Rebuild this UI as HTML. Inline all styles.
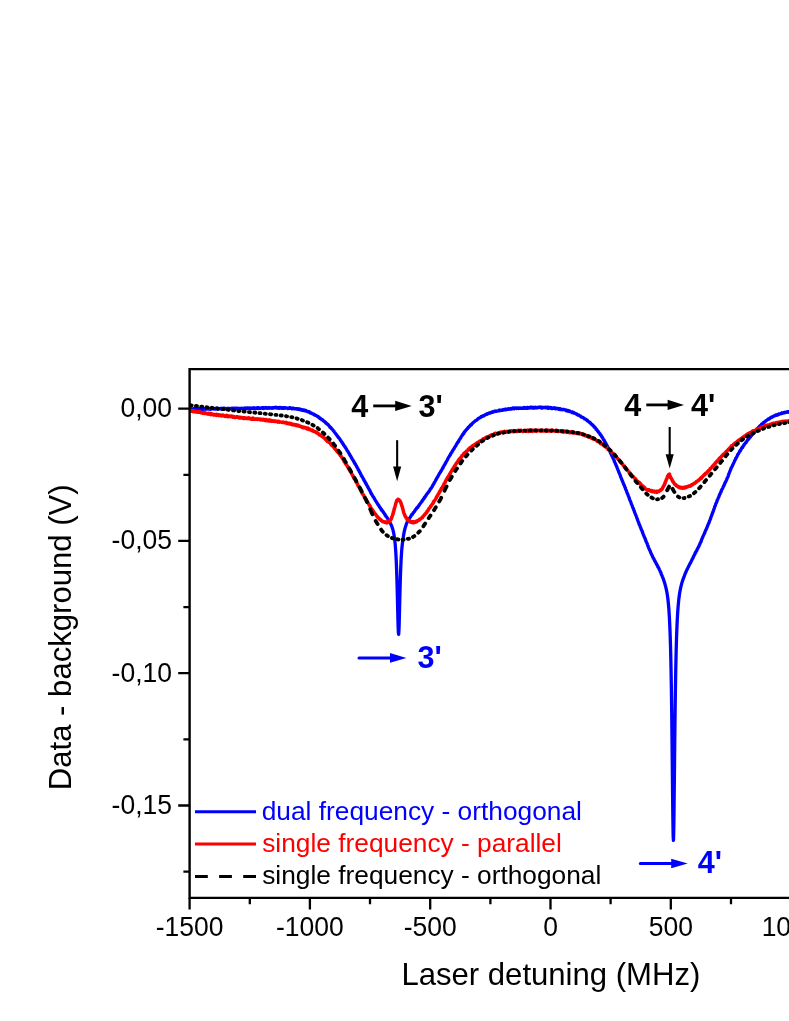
<!DOCTYPE html>
<html>
<head>
<meta charset="utf-8">
<title>Laser detuning</title>
<style>
html,body{margin:0;padding:0;background:#fff;}
body{width:789px;height:1021px;overflow:hidden;position:relative;font-family:"Liberation Sans",sans-serif;}
svg{position:absolute;left:0;top:0;display:block;will-change:transform;}
text{font-family:"Liberation Sans",sans-serif;}
</style>
</head>
<body>
<svg width="789" height="1021" viewBox="0 0 789 1021">
<rect x="0" y="0" width="789" height="1021" fill="#fff"/>
<!-- curves -->
<clipPath id="pc"><rect x="189.6" y="369.1" width="700" height="528.8"/></clipPath>
<g fill="none" stroke-linejoin="round" stroke-linecap="round" clip-path="url(#pc)">
<path d="M189.30 408.99L189.53 409.07L190.12 408.92L190.12 408.76L191.03 408.87L191.40 408.73L191.92 409.00L191.83 409.33L191.55 408.85L191.77 408.82L191.78 409.10L192.45 409.06L192.85 409.00L193.45 408.73L193.66 408.96L193.75 409.15L193.86 408.62L194.27 408.84L194.77 408.47L194.42 408.63L194.88 408.48L194.94 408.89L196.02 408.63L196.24 409.02L196.39 408.99L196.19 408.90L196.84 408.43L197.04 408.80L197.42 408.93L197.55 408.97L197.83 408.54L197.90 408.81L198.52 408.68L198.66 408.72L198.82 409.20L199.17 408.72L199.39 408.92L199.81 409.15L199.73 408.77L200.18 408.89L200.30 408.95L200.32 408.93L201.23 408.60L201.03 408.93L201.78 409.26L202.01 408.51L201.77 409.13L202.26 408.93L202.67 408.73L202.89 409.41L203.09 409.09L203.79 408.58L203.64 408.91L204.10 409.04L204.19 408.84L204.68 409.06L204.71 408.87L205.19 409.05L205.65 409.25L205.61 408.70L205.68 408.93L205.82 408.75L206.44 408.90L206.79 408.56L206.93 408.72L207.10 408.81L207.74 409.09L208.42 409.15L208.12 408.51L208.59 408.65L208.90 409.02L208.58 408.33L209.43 408.73L209.42 408.82L210.06 409.17L209.93 409.02L210.10 408.75L210.54 408.74L210.94 408.77L211.06 409.22L211.49 408.72L211.25 408.75L211.74 408.92L212.30 408.79L212.91 408.77L212.88 408.53L213.07 408.81L213.61 408.70L213.86 409.11L214.33 408.97L214.48 408.80L214.47 408.97L214.87 408.71L215.15 409.07L215.48 408.79L215.65 408.94L215.50 408.46L215.48 408.88L216.13 408.35L216.08 408.26L216.92 408.70L217.20 408.54L217.07 408.81L217.78 409.29L218.02 408.55L218.12 408.60L218.83 408.82L219.18 408.89L218.69 408.71L219.57 408.70L219.71 408.93L220.01 408.88L220.44 408.48L220.31 408.72L220.65 408.75L220.89 408.46L221.21 408.80L221.57 408.51L221.33 408.98L221.73 408.78L222.45 408.75L222.58 408.57L223.00 408.69L222.71 408.20L223.30 408.42L223.46 408.80L223.81 408.19L223.95 408.92L224.64 408.25L224.68 408.89L225.00 408.48L225.30 408.89L225.78 408.72L225.78 408.29L226.49 409.00L226.62 409.05L226.84 408.66L227.11 408.60L227.53 408.62L227.86 408.41L227.94 408.94L228.10 408.52L228.53 408.64L228.63 408.45L229.22 408.49L229.19 408.31L228.99 408.96L229.94 408.60L229.83 408.88L229.80 408.64L230.35 408.45L230.47 408.54L231.51 408.48L231.43 408.62L231.20 408.52L232.04 408.53L232.10 408.25L232.99 408.39L232.53 409.02L232.59 408.42L233.42 408.32L233.51 408.67L233.59 408.95L233.49 408.21L234.41 408.52L235.03 408.41L234.41 408.12L235.50 408.76L235.35 408.56L236.11 408.58L235.91 408.36L236.05 408.67L236.68 408.41L236.84 408.51L236.85 408.26L237.48 408.23L237.47 408.88L237.44 408.40L238.71 408.60L238.41 408.51L238.64 408.40L239.19 408.38L239.00 408.67L239.25 408.43L239.57 408.46L239.87 408.50L240.32 408.79L240.89 408.66L240.78 408.58L241.33 408.33L241.65 408.12L241.32 408.72L241.86 408.72L241.86 408.43L242.67 408.60L242.82 408.65L243.00 408.66L242.96 408.68L243.63 408.32L243.70 408.82L244.38 408.11L244.47 408.64L244.59 408.54L245.34 408.64L245.58 408.89L245.45 408.78L246.00 408.11L245.92 407.96L246.22 408.60L246.63 408.13L246.71 408.38L247.09 408.59L247.46 407.95L247.99 407.85L248.18 408.43L248.03 408.37L248.81 408.29L248.69 408.35L249.10 408.12L249.53 407.95L249.67 408.28L250.41 408.07L250.26 407.90L250.19 408.44L251.13 408.29L250.99 408.40L251.32 408.04L251.09 408.12L251.96 408.03L252.21 408.05L252.50 408.32L252.85 408.07L253.33 408.35L253.19 408.34L253.74 408.76L253.41 407.89L253.71 408.47L254.37 408.21L254.50 408.23L254.36 407.85L255.09 408.10L255.25 408.40L255.39 408.18L256.01 408.22L256.10 408.12L256.10 408.48L256.52 408.17L257.55 407.66L257.01 407.99L257.66 407.66L257.86 407.65L258.16 408.02L257.99 408.49L258.52 408.15L258.94 407.83L259.40 407.89L259.34 408.41L259.30 408.16L260.06 408.13L260.38 408.09L260.49 408.11L260.54 408.30L261.10 408.23L261.33 408.14L261.81 407.81L261.58 408.20L262.23 407.89L262.46 408.33L262.52 407.72L263.16 408.01L263.41 408.03L263.50 407.69L263.80 408.47L263.64 408.40L264.29 407.90L264.71 408.21L264.97 408.10L265.47 407.49L265.20 408.05L265.22 407.97L265.86 408.00L266.22 407.70L266.91 407.89L266.86 407.91L266.78 408.24L267.50 408.02L267.39 407.92L267.52 408.30L268.71 407.77L268.58 407.80L268.98 407.43L269.24 408.28L269.86 408.11L269.67 408.10L270.01 408.03L269.74 407.88L269.95 407.90L270.96 407.77L271.27 407.77L271.33 407.83L271.56 408.19L271.64 407.95L271.63 407.78L272.49 407.64L272.57 407.62L272.83 408.19L273.10 407.90L273.57 407.78L273.73 407.67L274.09 407.47L273.90 407.73L274.63 407.97L275.31 407.64L274.97 407.68L275.37 407.68L275.83 407.76L275.95 407.32L276.16 407.67L275.88 407.51L276.73 407.96L276.59 407.53L276.99 407.88L277.64 408.12L277.52 407.65L278.01 407.58L278.61 407.78L278.60 407.74L278.89 407.49L278.77 407.87L279.14 408.27L279.33 407.69L279.76 407.72L279.92 407.51L280.33 407.86L280.75 407.47L280.85 407.52L281.04 408.13L281.26 407.59L281.81 408.09L282.02 408.21L282.56 407.91L282.86 407.99L282.81 408.35L283.37 407.83L283.14 407.74L284.10 407.55L284.10 407.91L284.05 408.28L284.11 408.17L284.79 407.71L284.53 407.74L285.11 407.85L285.79 408.06L285.92 407.95L286.08 408.07L286.74 408.11L286.54 407.98L287.17 408.06L287.28 408.13L287.39 408.07L287.81 408.22L287.75 408.58L288.77 408.28L288.46 408.16L289.39 407.75L288.93 408.28L289.65 407.72L289.30 407.86L289.47 408.43L290.14 408.41L290.57 408.22L290.39 407.86L291.29 408.21L291.11 408.16L291.63 408.50L291.99 408.85L292.34 408.45L292.07 408.24L293.19 408.17L293.23 408.47L293.30 408.47L293.36 408.26L293.30 408.57L293.68 408.31L294.43 408.88L294.52 408.90L294.64 408.94L295.08 408.61L295.86 408.88L295.52 408.74L295.66 408.71L296.41 408.76L296.51 408.58L296.71 408.59L296.86 409.15L296.94 408.97L297.33 409.11L297.79 409.34L298.15 408.76L298.58 409.03L298.92 409.29L299.15 409.39L299.45 409.27L299.37 409.62L299.25 409.46L299.88 409.19L300.09 409.31L300.45 409.75L300.84 409.73L300.92 409.26L301.25 410.04L301.58 409.89L301.83 410.10L301.96 409.78L302.51 409.86L302.65 409.75L302.78 410.49L303.31 410.10L304.00 410.55L303.76 410.16L304.44 410.41L304.78 410.12L305.11 410.48L304.93 410.85L305.80 410.49L305.62 411.03L305.65 410.91L305.95 410.74L306.42 410.96L306.61 411.07L306.87 411.26L307.45 411.28L307.36 411.34L307.40 411.48L307.95 411.43L308.23 411.50L308.61 411.86L308.50 412.16L309.20 411.83L309.39 412.25L309.93 412.26L309.67 412.33L310.24 412.81L310.45 412.69L310.51 413.20L310.97 412.92L311.61 413.28L311.51 413.26L311.57 413.22L312.16 413.60L312.48 413.62L312.78 413.90L312.76 413.93L313.19 413.90L313.68 414.22L313.48 414.30L313.67 414.56L314.25 414.38L314.68 414.69L314.50 414.55L314.65 415.12L315.05 414.98L315.42 415.02L315.88 415.49L316.31 415.86L316.48 415.59L316.68 415.84L317.13 416.09L317.24 416.21L317.59 416.58L317.59 416.45L318.33 416.66L318.43 417.07L318.46 417.05L318.74 417.45L319.13 417.43L319.24 417.60L319.48 417.57L319.68 418.30L320.24 418.17L320.33 418.48L320.58 418.65L320.79 418.91L321.12 419.12L321.59 419.63L321.87 419.41L322.37 419.57L322.40 419.89L322.96 420.09L323.14 420.64L323.40 420.90L323.30 420.80L323.51 420.82L324.11 421.22L324.51 421.73L324.63 421.49L325.01 422.12L325.14 422.14L325.45 422.71L325.50 422.49L325.94 422.79L326.15 422.88L326.37 423.22L326.65 423.83L327.08 424.02L327.35 424.12L327.48 424.33L328.14 424.47L328.24 424.97L328.50 425.32L329.00 425.61L329.24 425.91L329.39 426.09L329.67 426.44L329.56 426.55L329.92 427.04L330.04 427.44L330.76 427.51L330.65 427.76L331.29 428.19L331.39 428.46L331.48 428.56L331.78 428.88L332.13 429.11L332.48 429.67L332.92 429.94L333.04 430.35L333.41 430.66L333.53 430.96L333.99 431.31L334.22 431.77L334.44 432.11L334.79 432.59L335.09 432.94L335.42 433.17L335.65 433.60L335.64 433.56L335.91 434.04L336.39 434.47L336.40 434.66L336.83 435.31L337.38 435.72L337.26 436.08L337.52 436.19L337.88 436.46L337.91 436.80L338.63 437.29L338.47 437.66L339.17 438.14L339.48 438.40L339.71 438.98L339.87 439.38L340.24 439.76L340.40 440.15L340.89 440.68L340.97 440.86L341.37 441.53L341.71 441.79L341.57 441.94L341.96 442.39L342.32 442.72L342.45 443.21L343.03 443.76L343.24 444.19L343.33 444.62L343.59 444.59L343.72 445.12L344.03 445.65L344.41 446.10L344.62 446.49L345.10 446.77L345.22 447.51L345.70 447.88L345.90 448.16L346.29 448.90L346.44 449.18L346.75 449.69L346.98 450.25L347.46 450.95L347.70 451.10L347.91 451.33L348.13 451.98L348.33 452.47L348.58 452.79L348.94 453.27L349.20 453.67L349.65 454.23L349.70 454.51L349.71 454.85L350.03 455.32L350.54 455.92L350.73 456.24L350.98 456.82L351.42 457.41L351.56 457.90L351.87 458.46L352.15 458.89L352.30 459.33L352.89 459.90L352.98 460.27L353.34 460.72L353.52 461.29L353.77 461.39L353.99 461.95L354.30 462.26L354.43 462.92L354.89 463.42L355.05 463.92L355.53 464.34L355.64 464.68L355.80 465.16L356.30 465.64L356.45 466.08L356.76 466.68L357.01 467.29L357.28 467.56L357.70 468.29L358.01 468.90L358.07 469.46L358.60 470.10L358.85 470.59L359.19 471.06L359.45 471.61L359.48 472.02L359.58 472.07L360.18 472.67L360.32 473.31L360.46 473.97L360.93 474.31L361.16 474.87L361.32 475.45L361.40 475.74L361.64 475.97L362.13 476.67L362.40 476.98L362.68 477.61L363.03 478.15L363.36 478.80L363.40 479.37L363.87 479.66L364.12 480.26L364.38 480.93L364.75 481.37L365.09 481.83L365.37 482.62L365.46 482.93L365.65 483.12L366.20 483.57L366.20 484.27L366.44 484.70L366.93 485.38L367.26 485.74L367.55 486.31L367.49 486.60L367.90 486.88L368.02 487.57L368.29 488.09L368.64 488.54L368.99 489.19L369.37 489.71L369.66 490.39L369.90 490.79L370.29 491.37L370.51 492.08L370.89 492.71L370.96 493.25L371.24 493.60L371.68 493.98L371.56 494.29L371.97 494.66L372.29 495.10L372.55 495.74L372.85 496.29L373.34 496.68L373.29 497.10L373.69 497.29L374.01 497.85L374.10 498.20L374.40 498.75L374.78 499.28L375.19 499.81L375.17 500.19L375.61 500.76L375.88 501.09L376.26 501.62L376.52 502.03L376.87 502.73L377.05 503.08L377.41 503.47L377.53 503.82L377.63 503.99L377.98 504.55L378.28 504.76L378.47 505.28L379.07 505.81L379.19 506.52L379.35 506.86L379.72 506.89L379.72 507.28L380.06 507.72L380.10 507.62L380.43 508.05L380.52 508.37L380.64 508.59L381.00 509.05L381.53 509.35L381.27 509.92L381.61 510.04L381.95 510.34L381.88 510.50L382.04 510.48L382.73 511.21L382.76 511.54L383.23 511.90L383.16 512.07L383.41 512.38L383.55 512.37L383.77 512.89L384.13 513.20L384.35 513.68L384.52 513.94L384.62 514.12L385.05 514.37L385.09 514.88L385.09 515.07L385.43 515.61L385.84 516.15L385.93 516.23L386.06 516.18L386.29 516.73L386.47 516.85L386.75 517.23L387.11 517.75L387.30 517.98L387.72 518.54L387.59 518.49L388.12 519.16L388.11 519.27L388.25 519.56L388.45 520.07L388.59 520.50L388.98 520.82L389.12 520.87L389.60 521.55L389.36 521.91L389.89 522.27L389.98 522.73L390.30 523.15L390.50 523.52L390.60 523.74L390.90 524.33L391.00 524.54L391.20 524.98L391.50 525.68L391.80 526.42L392.00 526.95L392.10 527.22L392.20 527.51L392.40 528.12L392.60 528.74L392.70 529.07L392.80 529.43L393.00 530.15L393.20 530.93L393.30 531.35L393.40 531.79L393.60 532.71L393.80 533.71L393.90 534.25L394.00 534.81L394.20 536.02L394.40 537.36L394.50 538.09L394.60 538.84L394.80 540.50L395.00 542.35L395.10 543.37L395.20 544.44L395.40 546.81L395.60 549.46L395.70 550.95L395.80 552.51L396.00 555.98L396.20 559.95L396.30 562.13L396.40 564.47L396.60 569.65L396.80 575.53L396.90 578.75L397.00 582.16L397.20 589.51L397.40 597.51L397.50 601.67L397.60 605.90L397.80 614.30L398.00 622.10L398.10 625.54L398.20 628.55L398.40 632.85L398.60 634.36L398.70 634.08L398.80 633.00L399.00 628.86L399.20 622.58L399.30 618.89L399.40 614.95L399.60 606.73L399.80 598.49L399.90 594.51L400.00 590.67L400.20 583.48L400.40 577.03L400.50 574.09L400.60 571.33L400.80 566.31L401.00 561.96L401.10 559.98L401.20 558.14L401.40 554.83L401.60 551.95L401.70 550.64L401.80 549.42L402.00 547.21L402.20 545.25L402.30 544.37L402.40 543.52L402.60 541.99L402.80 540.62L402.90 539.96L403.00 539.28L403.20 537.92L403.40 536.55L403.50 535.89L403.60 535.23L403.80 533.98L404.00 532.85L404.10 532.33L404.20 531.85L404.40 530.92L404.60 530.05L404.70 529.64L404.80 529.24L405.00 528.48L405.30 527.40L405.50 526.71L405.60 526.40L405.90 525.47L406.00 525.17L406.20 524.59L406.50 523.77L406.80 523.02L407.00 522.54L407.10 522.30L407.40 521.66L407.42 521.60L407.80 521.10L408.06 520.64L408.34 519.95L408.55 519.76L408.60 519.44L409.07 519.01L409.07 519.10L409.24 518.66L409.64 518.07L409.90 517.69L410.05 517.44L410.14 517.40L410.60 516.77L410.56 516.49L410.69 516.37L410.90 515.97L411.26 515.56L411.38 515.43L411.61 515.17L411.93 514.82L411.77 514.46L412.20 514.42L412.58 514.15L412.82 513.61L412.89 513.28L413.25 513.13L413.32 512.93L413.35 512.48L413.57 512.31L414.00 511.98L414.42 511.62L414.64 511.22L414.63 511.18L414.76 510.71L414.92 510.63L415.09 510.33L415.48 509.82L415.59 509.56L416.01 509.40L416.18 509.05L416.38 508.73L416.55 508.71L416.59 508.24L416.83 507.98L417.23 507.43L417.64 507.42L417.72 507.39L417.85 506.99L418.14 506.59L418.16 506.43L418.68 505.95L418.86 505.55L419.05 505.31L419.49 504.56L419.61 504.43L419.89 503.89L420.13 503.65L420.63 503.10L420.89 502.58L421.19 502.28L421.45 501.92L421.97 501.43L421.95 501.20L422.02 500.95L422.54 500.36L422.86 500.27L423.04 499.82L423.10 499.33L423.53 498.89L423.97 498.57L424.00 498.26L424.38 497.94L424.34 497.57L424.88 497.30L425.03 496.57L425.55 496.44L425.69 495.80L426.12 495.32L426.23 495.17L426.44 494.60L426.77 494.05L427.13 493.75L427.38 493.49L427.94 493.12L428.16 492.66L428.13 492.62L428.28 492.25L428.69 491.68L428.92 491.38L429.47 490.92L429.64 490.44L429.96 490.02L429.95 489.93L429.98 489.64L430.41 489.13L430.68 488.69L431.14 488.39L431.41 487.82L431.62 487.40L431.96 486.93L432.46 486.35L432.50 485.98L432.81 485.17L433.18 484.80L433.43 484.15L433.76 483.82L434.05 483.44L434.27 482.90L434.22 482.45L434.70 482.07L435.00 481.54L435.29 480.99L435.58 480.37L435.87 479.89L436.10 479.74L436.15 479.31L436.49 478.90L436.80 478.07L437.11 477.82L437.38 477.14L437.80 476.82L438.00 476.18L438.32 475.60L438.59 475.21L438.80 474.57L439.12 474.05L439.39 473.47L439.82 473.11L439.93 472.82L439.99 472.70L440.42 472.06L440.75 471.67L440.82 471.05L441.47 470.52L441.60 470.06L441.89 469.59L442.11 469.27L442.21 468.94L442.44 468.42L443.00 467.92L442.99 467.29L443.39 466.95L443.78 466.27L443.89 465.82L444.29 465.15L444.64 464.73L445.10 464.19L445.11 463.57L445.50 463.27L445.87 462.56L446.01 462.34L445.98 462.08L446.44 461.38L446.71 460.86L447.04 460.41L447.41 459.83L447.70 459.30L447.94 458.73L448.03 458.40L448.09 458.21L448.49 457.51L448.82 457.23L449.06 456.60L449.41 456.09L449.62 455.63L450.16 455.17L450.51 454.49L450.56 453.95L450.94 453.52L451.18 452.92L451.63 452.53L451.85 452.30L452.01 451.70L452.08 451.71L452.41 451.00L452.59 450.69L453.07 450.13L453.22 449.67L453.66 449.24L453.91 448.88L454.12 448.55L454.20 448.22L454.61 447.62L454.70 447.29L455.16 446.72L455.38 446.35L455.72 445.77L456.01 445.47L456.40 444.59L456.39 444.29L456.93 443.93L457.04 443.32L457.63 442.80L457.59 442.37L457.89 441.94L457.92 441.94L458.58 441.66L458.56 441.10L459.01 440.38L459.24 439.93L459.41 439.50L459.86 439.17L460.07 438.82L460.18 438.51L460.60 438.19L460.76 437.69L461.10 437.08L461.36 436.51L461.74 435.98L462.20 435.60L462.34 434.99L462.62 434.83L462.83 434.23L463.11 433.93L463.67 433.68L463.67 433.19L463.89 432.65L464.09 432.76L464.35 432.40L464.94 431.78L464.76 431.37L465.34 431.09L465.69 430.53L465.76 430.54L465.92 429.99L466.25 429.86L466.70 429.60L466.68 429.25L466.90 428.95L467.52 428.62L467.90 428.21L467.96 428.05L468.04 427.31L468.79 427.25L468.87 426.83L469.35 426.62L469.49 426.32L469.75 425.86L469.94 425.69L470.30 425.78L470.60 425.42L470.43 424.98L470.87 425.05L471.55 424.75L471.55 423.98L471.71 423.94L472.00 424.08L472.18 423.72L472.49 423.37L472.73 423.03L473.06 422.71L473.33 422.48L473.75 422.17L473.88 422.10L474.26 421.68L474.58 421.42L475.10 421.06L475.26 420.99L475.48 420.62L475.88 420.50L476.06 420.54L476.27 420.36L476.48 420.16L476.98 419.91L477.21 419.65L477.29 419.41L477.53 419.17L478.04 419.13L478.08 418.77L478.18 419.02L478.26 418.61L478.50 418.29L479.16 418.13L479.53 417.91L479.83 417.86L479.78 417.53L480.47 417.66L480.51 417.15L480.97 416.77L481.27 416.81L481.36 416.42L481.70 416.59L481.65 416.67L481.94 416.54L482.08 416.03L482.78 415.97L483.01 416.26L483.46 415.85L483.66 415.64L483.79 415.67L484.06 415.79L484.13 415.57L484.61 415.21L484.86 415.10L484.92 415.00L485.40 414.64L485.71 414.42L485.94 414.48L486.47 414.16L486.92 414.19L486.83 414.09L487.13 414.33L487.12 413.66L487.78 413.68L487.92 413.60L487.71 413.67L488.46 413.68L488.82 413.27L488.86 413.09L489.23 412.83L489.41 412.86L490.05 413.05L489.70 412.92L490.14 412.64L490.89 412.67L490.81 412.66L491.20 412.66L491.37 412.34L491.46 412.32L491.99 411.91L492.38 411.96L492.39 412.45L492.97 411.61L493.46 411.88L493.72 411.91L493.47 411.71L493.79 411.56L493.76 411.70L494.63 411.63L494.83 411.54L495.15 411.08L495.11 411.38L495.35 411.16L495.92 411.16L496.02 411.30L496.01 411.35L496.53 411.34L496.94 410.97L497.15 411.22L497.17 411.22L497.26 411.15L497.94 411.15L498.34 410.75L498.54 410.68L498.80 410.85L499.05 410.31L499.66 410.60L499.79 410.38L500.03 410.38L499.88 410.05L500.26 410.19L500.74 410.32L500.78 410.47L501.02 410.44L501.53 410.14L502.17 410.06L502.04 409.90L502.53 410.14L502.47 409.94L502.73 410.07L502.79 410.28L503.27 409.82L504.02 409.44L504.07 409.53L504.47 409.35L504.76 409.35L504.90 409.87L505.15 409.58L505.53 409.13L505.95 409.58L506.10 409.69L506.21 409.30L506.44 409.19L506.52 409.22L506.94 409.32L507.08 409.36L507.83 409.45L507.44 409.41L507.95 409.39L508.66 409.41L508.42 409.20L508.54 408.66L509.10 408.94L509.70 409.00L509.66 408.80L510.14 409.06L510.32 408.73L510.51 408.56L511.37 409.07L511.22 408.85L511.37 408.71L511.68 408.84L512.09 408.85L512.20 408.67L512.58 408.08L512.73 408.36L512.66 408.38L513.43 408.23L513.53 408.48L513.83 408.69L513.64 408.28L514.06 408.11L514.32 408.84L514.79 408.22L514.74 408.01L515.41 408.35L515.73 408.38L515.72 408.08L516.14 408.44L516.39 408.11L517.13 407.98L516.70 408.24L517.41 408.37L517.39 408.01L517.89 408.24L518.31 408.13L518.24 408.64L518.73 407.95L518.79 408.46L519.78 408.08L519.83 408.05L520.18 408.25L519.67 408.29L519.92 408.37L520.77 408.12L520.75 407.88L521.04 407.88L521.48 408.13L521.39 408.13L522.19 408.33L522.30 408.07L522.72 408.22L522.73 408.32L523.33 407.97L523.32 407.54L524.04 407.61L524.28 407.53L524.33 408.29L524.53 407.67L524.86 408.18L524.50 408.01L525.51 408.28L525.53 408.09L525.92 407.80L525.93 407.77L525.85 407.84L526.36 407.85L526.97 407.66L527.46 407.78L527.24 408.18L527.47 407.33L528.37 407.82L528.08 407.52L529.11 407.79L528.91 407.94L528.98 407.71L529.75 407.91L530.23 407.30L529.64 407.98L530.50 407.54L530.33 407.85L531.08 407.73L530.90 407.16L530.90 407.47L531.73 407.72L532.14 408.05L532.51 407.72L532.64 407.71L532.68 407.28L532.74 408.00L532.97 408.09L533.32 407.63L533.49 407.56L533.93 407.20L533.79 407.83L534.65 408.12L534.89 407.78L535.71 407.92L535.70 407.73L535.68 407.33L536.15 407.93L535.78 407.27L536.24 407.53L536.22 407.65L537.37 407.80L537.45 407.68L537.30 407.67L537.88 407.37L538.25 407.23L538.33 407.58L538.60 407.38L538.58 407.22L538.93 407.23L539.42 407.44L539.94 407.08L539.78 407.21L540.01 407.14L540.90 407.61L540.66 407.67L541.48 408.08L541.56 407.19L542.03 407.40L542.45 407.81L542.28 407.53L542.60 407.50L542.47 408.03L542.82 407.51L543.46 407.31L543.99 407.28L544.25 407.71L544.51 407.70L544.28 407.29L544.55 407.39L545.05 407.79L545.10 407.81L545.38 407.51L545.44 407.84L546.25 407.84L546.03 407.27L546.73 407.65L546.55 407.84L547.47 407.61L547.24 407.27L548.01 407.71L547.61 407.98L547.99 408.19L548.69 407.32L548.50 408.33L549.02 407.57L549.18 408.10L549.11 408.19L549.98 408.14L550.11 407.94L549.93 407.63L550.64 408.09L550.60 407.77L550.85 407.48L551.40 408.48L551.53 408.18L552.49 408.47L551.92 407.82L552.78 408.42L553.14 408.47L552.72 408.48L553.08 408.12L553.94 407.86L553.88 408.13L554.19 407.70L554.67 407.80L554.61 408.26L554.75 408.03L554.83 408.26L555.65 408.31L555.68 408.83L556.07 408.69L556.25 408.40L556.18 408.73L557.20 408.31L557.35 408.46L557.59 408.79L557.43 408.34L557.91 408.60L558.18 408.42L558.51 408.79L558.65 409.18L559.30 408.69L559.55 408.97L559.88 408.77L559.89 408.75L560.39 408.75L560.44 409.40L560.26 409.58L560.86 409.30L561.29 409.09L561.81 409.46L561.83 409.29L561.94 409.56L562.05 409.49L562.65 409.55L562.70 409.68L562.97 409.48L563.24 409.58L563.82 409.36L563.88 409.70L563.93 409.55L564.74 409.90L564.75 409.79L565.28 410.08L565.58 410.22L566.06 409.89L566.22 410.07L565.98 410.07L566.37 410.50L566.43 410.78L567.35 410.69L567.39 410.53L567.89 410.99L567.84 410.47L567.59 411.12L568.51 410.74L568.52 410.57L568.83 411.47L569.11 411.48L569.53 411.07L569.81 411.41L569.69 411.44L570.51 411.61L570.50 411.40L570.81 411.67L571.54 412.00L571.68 412.06L571.73 412.36L571.64 412.21L572.13 412.63L572.50 412.21L572.68 412.51L572.76 412.21L573.15 412.46L573.36 413.07L573.94 412.76L574.16 413.08L574.39 413.05L574.36 413.00L574.84 413.25L575.20 413.35L575.30 413.49L575.67 413.85L576.37 413.97L576.34 413.88L576.76 413.96L576.82 414.32L577.21 414.39L577.19 414.74L577.80 415.06L578.21 414.95L578.46 414.84L578.61 414.97L578.82 415.00L579.01 415.15L579.19 415.29L579.57 415.56L580.01 415.71L579.86 415.97L580.36 415.89L580.33 416.09L580.49 416.08L580.93 416.75L581.12 416.73L581.47 417.12L582.19 417.13L582.27 417.43L582.64 417.32L583.09 417.67L583.41 418.07L583.42 417.73L584.02 418.31L584.06 418.53L584.10 418.38L584.47 418.64L584.47 418.92L584.87 418.80L585.28 419.18L585.70 419.18L585.84 419.42L585.98 419.50L586.35 419.72L586.72 419.98L586.92 420.25L587.30 420.17L587.34 420.93L587.65 421.03L588.05 421.20L588.25 421.26L588.52 421.54L589.15 421.88L589.17 422.11L589.36 422.04L589.87 422.66L590.27 423.01L590.11 422.52L590.58 423.21L590.64 423.38L590.93 423.58L591.20 424.07L591.58 423.98L592.16 424.46L591.84 424.75L592.43 424.70L592.36 424.97L592.77 425.35L593.21 425.58L593.48 426.16L593.74 426.14L593.78 426.71L594.35 426.75L594.47 427.34L595.16 427.57L595.17 427.67L595.52 428.27L595.65 428.48L595.94 428.79L595.94 429.17L596.52 429.18L596.67 429.55L597.07 430.23L597.22 430.43L597.54 430.98L598.06 431.21L597.88 431.19L597.98 431.55L598.55 432.10L598.67 432.47L599.05 432.76L599.51 433.17L599.61 433.57L600.10 433.94L600.22 434.66L600.77 434.87L601.05 435.17L601.15 435.69L601.48 436.28L601.71 436.73L602.02 436.94L602.22 437.04L602.24 437.58L602.80 437.87L602.86 438.39L603.21 439.10L603.41 439.45L604.11 440.04L604.01 440.30L604.23 440.57L604.43 441.02L604.91 441.75L604.90 442.15L605.40 442.59L605.90 443.24L605.96 443.77L606.30 444.20L606.66 444.86L606.82 445.42L607.20 445.82L607.59 446.58L607.82 447.16L608.03 447.54L608.07 447.62L608.43 448.35L608.71 448.98L609.13 449.60L609.37 450.09L609.58 450.86L609.72 451.30L610.07 451.60L610.27 452.16L610.42 452.60L610.62 453.25L611.00 454.04L611.48 454.55L611.61 455.21L611.96 455.91L612.32 456.65L612.71 457.05L612.90 457.82L613.19 458.48L613.45 459.16L613.94 459.86L614.09 460.32L614.09 460.65L614.28 461.24L614.63 462.02L615.05 462.75L615.24 463.35L615.67 464.13L615.93 464.96L616.02 465.08L616.25 465.47L616.54 466.23L616.73 466.88L617.07 467.71L617.56 468.50L617.60 469.10L617.96 469.89L618.39 470.75L618.59 471.37L618.84 472.18L619.09 472.84L619.54 473.61L619.88 474.40L620.11 475.10L620.10 475.17L620.48 475.92L620.62 476.67L621.01 477.46L621.25 478.28L621.61 478.99L621.96 479.88L622.09 479.98L622.12 480.58L622.60 481.22L622.76 481.98L623.02 482.55L623.39 483.38L623.58 484.12L624.00 484.83L624.32 485.41L624.58 486.38L624.94 487.01L625.17 487.74L625.50 488.50L625.68 489.25L626.00 489.80L626.03 489.91L626.36 490.70L626.69 491.56L627.01 492.32L627.17 493.06L627.48 493.84L627.88 494.61L628.04 494.93L628.23 495.56L628.57 496.18L628.90 497.18L629.14 497.92L629.40 498.62L629.62 499.51L629.93 500.13L630.26 500.89L630.62 501.71L630.92 502.55L631.20 503.33L631.49 504.09L631.85 504.91L632.02 505.26L632.12 505.71L632.42 506.33L632.66 507.15L632.92 507.94L633.34 508.65L633.63 509.40L633.88 510.20L633.97 510.54L634.36 511.10L634.44 511.87L634.78 512.53L635.12 513.33L635.31 514.10L635.71 515.00L636.14 515.60L636.37 516.64L636.65 517.30L636.95 518.07L637.21 518.95L637.57 519.79L637.79 520.52L637.97 521.10L638.11 521.29L638.47 522.15L638.73 522.92L639.05 523.58L639.14 524.46L639.70 525.12L640.06 525.86L640.11 526.03L640.17 526.58L640.43 527.41L640.82 527.98L641.02 528.88L641.46 529.60L641.66 530.34L642.08 530.89L642.41 531.79L642.44 532.59L642.92 533.23L643.14 534.04L643.39 534.63L643.75 535.60L643.98 536.00L644.18 536.38L644.28 536.93L644.78 537.89L645.16 538.58L645.35 539.43L645.64 540.05L645.90 540.84L645.91 541.30L646.24 541.57L646.53 542.33L646.86 543.11L647.26 543.79L647.46 544.70L647.73 545.47L648.13 546.00L648.19 546.65L648.51 547.62L648.87 548.34L649.15 549.05L649.56 549.80L649.77 550.35L650.14 550.88L650.23 551.01L650.46 551.71L650.47 552.15L650.75 552.47L651.07 553.37L651.21 553.87L651.53 554.25L651.66 554.59L651.92 555.32L652.14 555.41L652.31 555.67L652.42 556.42L652.81 557.12L652.92 557.34L653.15 557.51L653.32 558.27L653.59 558.38L653.74 558.65L654.09 559.29L654.29 559.83L654.36 560.30L654.77 560.48L654.88 561.14L655.13 561.29L655.24 561.44L655.57 562.19L655.98 562.80L656.03 563.13L656.24 563.37L656.26 563.78L656.58 563.93L656.68 564.49L656.99 564.86L657.30 565.35L657.53 566.02L657.76 566.05L657.72 566.66L658.00 566.75L658.13 567.14L658.61 567.72L658.76 568.38L659.04 568.83L659.06 568.80L659.46 569.65L659.59 569.67L659.66 570.09L660.00 570.87L660.18 571.44L660.53 571.76L660.67 572.27L660.85 572.74L661.09 573.07L661.04 573.55L661.35 574.39L661.69 574.99L661.96 575.61L662.10 575.77L662.40 576.55L662.50 576.79L662.70 577.31L663.00 578.13L663.30 578.93L663.50 579.49L663.60 579.79L663.90 580.65L664.00 580.93L664.20 581.55L664.50 582.47L664.80 583.51L665.00 584.22L665.10 584.58L665.40 585.72L665.50 586.11L665.70 586.91L666.00 588.13L666.20 588.98L666.30 589.39L666.40 589.85L666.60 590.80L666.80 591.81L666.90 592.35L667.00 592.90L667.20 594.10L667.40 595.38L667.50 596.06L667.60 596.77L667.80 598.29L668.00 599.97L668.10 600.85L668.20 601.79L668.40 603.81L668.60 606.04L668.70 607.24L668.80 608.49L669.00 611.22L669.20 614.29L669.30 615.94L669.40 617.70L669.60 621.53L669.80 625.86L669.90 628.22L670.00 630.74L670.20 636.28L670.40 642.58L670.50 646.05L670.60 649.76L670.80 657.98L671.00 667.35L671.10 672.55L671.20 678.08L671.40 690.32L671.60 704.18L671.70 711.76L671.80 719.77L672.00 737.01L672.20 755.67L672.30 765.37L672.40 775.19L672.60 794.62L672.80 812.54L672.90 820.42L673.00 827.25L673.20 836.99L673.40 840.42L673.50 839.55L673.60 836.98L673.80 827.25L674.00 812.53L674.10 803.85L674.20 794.60L674.40 775.17L674.60 755.63L674.70 746.15L674.80 736.96L675.00 719.70L675.20 704.09L675.30 696.95L675.40 690.22L675.60 677.97L675.80 667.23L675.90 662.36L676.00 657.82L676.20 649.58L676.40 642.37L676.50 639.10L676.60 636.04L676.80 630.48L677.00 625.57L677.10 623.33L677.20 621.22L677.40 617.36L677.60 613.91L677.70 612.33L677.80 610.83L678.00 608.07L678.20 605.58L678.30 604.42L678.40 603.33L678.60 601.29L678.80 599.42L678.90 598.55L679.00 597.74L679.20 596.17L679.40 594.75L679.50 594.08L679.60 593.43L679.80 592.23L680.00 591.10L680.10 590.58L680.20 590.05L680.40 589.07L680.60 588.12L680.70 587.68L680.80 587.22L681.00 586.35L681.30 585.12L681.50 584.34L681.60 583.94L681.90 582.87L682.00 582.52L682.20 581.88L682.50 580.95L682.80 580.06L683.00 579.49L683.10 579.22L683.40 578.40L683.50 578.14L683.70 577.62L684.00 576.81L684.30 576.04L684.50 575.51L684.60 575.25L684.90 574.44L685.04 574.17L685.21 573.57L685.48 572.94L685.87 572.15L686.01 571.65L686.14 571.47L686.46 570.76L686.49 570.43L686.67 570.20L687.03 569.57L687.26 568.94L687.53 568.66L687.70 568.49L687.98 567.70L687.96 567.54L688.07 567.38L688.49 566.80L688.78 566.01L689.10 565.58L689.06 565.43L689.38 564.85L689.56 564.56L689.65 564.31L689.98 563.60L690.46 563.01L690.63 562.81L690.65 562.46L690.92 561.92L690.91 561.79L691.25 561.40L691.50 560.70L691.82 560.14L691.95 559.65L692.09 559.69L692.38 558.99L692.52 558.63L692.83 558.33L693.03 557.80L693.14 557.19L693.41 556.92L693.45 556.68L693.82 555.90L694.05 555.75L694.23 555.24L694.44 554.80L694.82 554.21L694.92 553.99L694.96 553.62L695.26 552.84L695.41 552.77L695.83 552.46L695.87 551.74L696.41 551.20L696.72 550.66L696.88 550.13L697.19 549.49L697.44 548.83L697.79 548.39L698.06 547.86L698.10 547.66L698.49 546.97L698.80 546.41L699.03 545.91L699.32 545.08L699.59 544.57L699.93 543.99L699.90 543.67L700.23 543.28L700.51 542.48L700.72 542.00L701.27 541.27L701.32 540.49L701.62 539.61L702.02 538.95L702.14 538.39L702.53 537.72L702.77 536.88L703.12 536.24L703.48 535.36L703.82 534.68L704.09 534.23L704.16 534.03L704.49 533.16L704.75 532.68L704.96 532.02L705.39 531.12L705.55 530.42L705.84 529.89L706.13 529.57L706.26 529.00L706.51 528.56L706.86 527.82L707.17 527.07L707.28 526.58L707.69 525.72L707.90 524.94L708.31 524.29L708.54 523.46L709.00 522.74L709.24 522.07L709.43 521.22L709.79 520.44L709.90 520.07L710.10 519.74L710.44 518.93L710.72 518.10L710.85 517.27L711.27 516.53L711.63 515.59L711.92 514.91L712.08 514.43L712.10 513.93L712.54 513.03L712.75 512.30L713.11 511.55L713.43 510.81L713.75 509.83L713.95 509.05L714.31 508.20L714.51 507.34L714.79 506.49L715.24 505.76L715.49 504.81L715.67 504.15L715.93 503.61L716.10 503.29L716.52 502.48L716.78 501.68L717.06 501.18L717.15 500.17L717.59 499.66L717.93 498.84L718.03 498.52L718.23 497.97L718.48 497.42L718.94 496.76L719.22 495.83L719.39 495.17L719.61 494.59L720.17 493.83L720.25 493.28L720.70 492.38L721.06 491.80L721.11 490.97L721.52 490.59L721.76 489.70L722.04 489.16L722.12 489.11L722.57 488.49L722.75 488.06L722.99 487.24L723.40 486.66L723.57 486.11L723.86 485.60L724.19 485.25L724.12 484.95L724.45 484.29L724.80 483.61L725.00 483.02L725.22 482.39L725.79 481.67L725.93 481.21L726.25 480.32L726.56 479.86L726.81 479.14L727.11 478.32L727.51 477.53L727.96 476.81L728.05 476.35L728.15 476.12L728.28 475.31L728.69 474.58L728.90 473.68L729.36 472.97L729.58 472.06L729.90 471.49L729.99 471.19L730.15 470.66L730.37 470.07L730.84 469.33L730.98 468.43L731.29 467.93L731.67 467.13L731.93 466.69L732.32 466.11L732.68 465.23L732.92 464.63L733.21 463.95L733.50 463.35L733.87 462.74L733.83 462.37L734.13 461.96L734.31 461.56L734.58 460.71L735.00 460.20L735.26 459.67L735.65 459.02L736.00 458.27L735.81 458.09L736.19 457.72L736.68 457.17L736.88 456.71L737.23 455.90L737.40 455.51L737.55 454.97L737.88 454.43L738.37 453.88L738.69 453.46L738.82 452.84L739.17 452.37L739.52 451.85L739.61 451.49L739.96 450.78L740.27 450.95L740.61 450.31L740.68 449.84L741.19 449.30L741.24 448.74L741.50 448.45L741.68 447.96L742.10 447.95L742.15 447.43L742.72 447.32L742.83 446.75L743.11 446.26L743.19 445.78L743.87 445.35L743.95 444.90L744.27 444.55L744.37 444.20L745.00 443.78L745.31 443.23L745.42 442.96L745.80 442.49L746.04 442.36L746.21 442.43L746.41 441.89L746.90 441.39L746.96 440.85L747.22 440.49L747.54 440.08L747.66 439.99L747.89 439.69L748.32 439.54L748.53 439.08L748.69 438.80L749.14 438.59L749.15 437.96L749.66 437.64L750.06 437.21L750.38 437.06L750.50 436.46L751.01 436.08L751.43 435.68L751.44 435.32L751.89 435.19L751.80 435.14L751.85 434.65L752.47 434.54L752.70 434.09L753.02 433.57L753.22 433.32L753.56 432.97L754.00 432.57L754.21 432.78L754.17 432.06L754.28 432.01L754.96 431.66L755.17 431.20L755.48 430.96L755.72 430.71L756.26 430.29L756.30 429.99L756.66 429.70L756.65 429.01L757.12 429.15L757.40 428.90L757.79 428.44L758.04 428.23L757.99 427.81L758.63 427.66L758.55 427.26L758.93 426.98L759.33 426.89L759.42 426.34L759.97 426.14L760.08 425.79L760.15 425.84L760.76 425.58L760.80 425.18L761.13 424.89L761.26 424.97L761.46 424.26L761.90 424.00L762.25 423.75L762.53 423.76L763.00 423.60L762.91 423.09L763.33 422.67L763.53 422.45L764.19 422.49L764.01 422.12L764.32 422.21L764.53 421.95L765.13 421.51L765.23 421.35L765.63 421.14L765.59 421.04L766.18 420.56L766.25 420.76L766.58 420.30L766.99 420.04L767.06 419.98L767.36 419.74L767.81 419.41L768.06 419.12L768.25 419.04L768.60 419.25L768.81 419.16L769.31 418.75L769.65 418.67L769.79 418.20L770.31 418.16L769.83 418.16L770.35 417.75L770.99 417.60L770.92 417.62L771.01 417.38L771.84 417.09L771.99 417.18L771.78 417.01L772.33 417.14L772.31 416.80L772.55 416.60L773.06 416.52L773.30 416.32L773.49 416.09L773.92 416.00L774.10 416.08L774.60 415.93L774.89 415.92L775.33 415.23L775.40 415.36L775.53 415.23L775.73 415.27L776.04 415.11L776.69 414.99L776.86 415.14L776.86 414.91L777.48 414.54L777.36 414.94L778.09 414.78L777.91 414.43L778.34 414.64L778.62 414.23L778.73 414.51L779.16 414.14L779.18 413.92L779.68 413.91L780.21 413.74L780.71 413.84L780.73 413.74L780.91 413.62L780.98 413.40L781.71 413.02L781.45 413.36L781.83 412.89L782.16 413.30L782.14 413.39L783.01 413.13L783.22 412.91L783.17 412.87L783.47 412.79L783.61 412.62L783.70 412.59L784.28 412.47L784.62 412.83L784.86 412.50L785.15 412.63L785.27 412.30L785.77 412.30L785.67 412.18L786.29 412.25L786.91 412.26L787.18 412.07L787.09 411.80L787.42 411.72L788.10 412.20L788.39 411.73L787.75 411.71L788.29 412.05L788.74 411.92L789.27 411.74L789.10 411.48L789.74 411.99L789.82 411.58L790.46 411.60L790.29 411.41L790.46 411.08L790.71 411.06L791.34 411.44L791.55 411.41L791.43 411.23" stroke="#0000ff" stroke-width="3.3"/>
<path d="M189.73 410.69L189.75 410.32L190.09 410.53L190.62 410.43L190.65 410.48L190.79 410.71L191.39 410.68L191.94 411.15L191.71 411.28L192.58 411.04L192.78 410.85L192.65 411.43L193.19 410.72L193.48 410.77L193.96 411.57L194.27 411.60L194.03 411.74L194.32 411.46L195.27 411.21L195.32 411.47L195.71 411.83L195.98 411.50L196.61 411.57L196.16 411.43L197.09 411.54L196.86 412.15L197.59 412.09L198.06 411.69L197.61 411.76L198.40 411.96L198.51 412.32L198.81 411.88L199.20 412.21L199.20 411.76L199.52 412.00L200.27 412.52L200.62 412.70L200.53 412.17L200.59 412.33L201.86 412.82L201.89 412.53L201.99 412.54L201.91 412.88L202.33 412.84L202.86 413.15L202.82 413.10L203.83 412.77L203.73 412.94L204.10 413.01L204.01 412.69L204.34 412.84L204.67 413.44L205.27 412.76L205.42 413.54L205.71 413.38L206.18 413.31L206.45 413.55L207.10 413.57L206.94 413.83L207.01 413.42L207.59 413.51L208.30 413.55L208.04 414.20L208.50 413.98L208.69 413.49L209.20 413.70L209.46 413.64L209.46 413.89L209.93 413.99L210.55 414.55L210.90 413.50L211.15 414.35L211.43 414.22L211.40 413.94L211.69 414.14L212.35 414.08L212.06 414.28L212.67 414.60L212.47 413.91L213.18 414.77L213.39 414.32L213.55 414.90L214.35 414.63L214.28 414.90L214.69 414.75L215.02 414.94L215.18 414.68L216.09 414.47L215.85 414.94L216.35 414.99L216.22 415.41L216.76 414.30L217.10 414.84L217.40 415.24L217.63 414.62L218.13 414.95L218.83 415.64L218.65 415.50L218.95 414.87L219.18 415.58L220.18 415.55L220.35 415.47L220.35 415.39L220.69 415.38L220.59 415.10L221.05 415.24L221.45 415.64L221.72 415.50L221.75 416.03L222.07 415.44L222.74 415.00L222.98 415.51L222.62 415.72L223.52 415.79L224.15 415.74L223.91 415.51L224.46 416.22L224.28 415.63L225.23 416.06L224.97 415.81L225.24 415.58L225.80 416.37L226.78 415.43L226.32 415.79L226.43 416.19L227.22 416.00L227.46 416.36L228.16 416.14L227.63 416.08L227.84 416.83L228.50 416.21L229.00 416.27L229.29 416.03L229.80 416.16L229.37 416.60L229.86 416.61L230.35 416.48L230.93 416.31L231.13 416.75L231.17 416.09L231.30 416.52L232.14 416.58L232.46 416.44L233.08 416.76L232.74 416.56L233.55 416.55L233.05 417.34L233.54 417.07L233.80 417.23L234.16 416.93L234.34 417.23L234.74 417.21L235.18 417.37L235.36 417.64L235.98 417.02L236.07 417.19L236.39 417.13L237.11 416.60L237.08 416.81L237.34 417.25L237.59 417.46L237.91 417.14L238.36 417.68L238.26 417.75L239.12 417.29L239.54 417.86L239.72 417.98L239.55 417.64L239.53 417.25L240.17 418.00L240.64 417.55L241.13 417.52L241.14 417.69L241.40 417.53L242.23 418.04L241.90 417.98L242.70 418.14L242.95 417.98L242.61 417.61L243.37 417.82L243.43 418.16L243.62 417.81L243.66 418.55L244.04 417.91L244.91 417.84L244.98 418.38L245.47 418.29L245.38 418.09L245.90 418.06L246.21 418.28L246.14 418.43L246.41 418.44L247.32 418.15L247.53 418.39L247.52 418.54L248.06 418.55L248.58 417.76L249.22 418.12L248.73 418.18L249.47 418.37L250.19 418.51L249.91 418.76L250.62 418.70L249.91 418.51L251.21 418.58L251.09 419.12L250.85 418.45L251.92 418.74L252.30 419.14L252.64 418.81L252.94 418.15L252.88 418.88L252.97 418.68L253.36 418.79L253.78 419.16L254.21 419.02L254.25 418.83L254.71 419.20L255.24 419.09L255.39 419.02L256.19 419.11L256.49 419.12L255.86 418.98L256.33 418.97L256.41 419.14L256.76 418.89L257.55 418.83L257.41 419.61L257.69 419.18L258.21 419.28L258.82 419.28L258.79 419.35L259.09 419.38L259.76 419.43L259.93 419.20L260.22 419.74L260.66 419.30L260.40 419.84L261.05 419.01L261.11 419.29L261.89 419.92L262.12 419.62L261.89 419.50L262.87 419.84L262.46 419.46L263.43 419.82L263.45 419.25L263.44 419.73L263.67 419.71L264.20 420.09L264.58 420.22L264.69 419.76L265.35 420.51L265.09 419.90L265.79 419.53L266.09 419.57L265.86 420.63L266.78 420.19L266.63 420.06L266.72 420.07L267.42 420.01L267.83 420.75L268.45 420.37L268.35 420.95L269.21 420.41L269.50 419.92L269.70 420.78L270.07 420.47L270.09 420.54L270.13 421.10L270.78 420.61L271.17 421.05L271.26 420.75L271.42 420.58L271.35 420.98L272.28 420.69L272.49 421.26L272.32 421.22L273.02 421.00L273.50 421.19L273.56 421.22L274.11 421.02L274.40 421.39L274.07 421.11L274.71 421.39L275.23 420.98L275.65 421.32L276.09 421.45L275.45 421.15L276.27 421.29L276.79 421.30L277.24 421.70L277.67 421.33L277.23 421.70L277.69 422.05L277.80 421.76L278.62 421.24L278.32 421.78L279.32 422.08L279.55 421.75L279.73 422.19L279.33 422.09L280.00 422.08L280.70 421.93L280.40 421.91L281.02 422.02L281.36 422.16L281.94 422.34L282.07 422.35L282.37 422.20L282.47 422.35L282.89 422.48L283.15 421.97L283.69 422.26L283.74 422.30L284.38 422.51L283.92 422.54L285.02 422.60L284.94 422.48L285.60 422.96L285.61 422.90L286.13 422.42L286.60 422.93L286.34 422.66L286.81 423.50L287.04 422.96L287.45 423.03L287.25 423.21L287.94 423.19L288.22 423.28L288.38 423.78L288.84 423.47L288.77 423.69L289.87 423.83L289.91 423.32L290.60 424.10L290.16 423.89L290.38 424.02L291.07 423.60L290.85 424.11L291.65 424.07L291.71 423.88L292.10 424.62L292.56 424.31L292.80 424.17L293.58 424.36L293.55 424.62L293.36 424.75L294.24 424.68L293.95 424.92L294.61 425.06L294.57 424.44L294.98 424.71L295.83 424.67L295.65 425.02L295.93 425.45L296.25 425.33L296.61 424.97L297.35 425.25L296.99 425.67L297.28 425.36L298.04 425.55L297.79 425.74L298.40 425.29L299.07 426.04L299.09 426.01L299.27 426.16L299.51 425.86L299.76 426.00L300.14 426.14L300.62 426.44L301.20 426.48L301.43 426.59L301.35 427.10L301.61 427.07L302.26 426.66L301.94 426.77L302.58 427.45L302.91 427.04L303.01 427.55L303.34 427.70L303.97 427.27L303.78 427.43L304.26 427.61L304.63 427.48L305.11 427.55L305.05 427.79L305.95 428.20L305.91 427.98L306.22 428.14L306.50 428.18L306.72 428.06L306.95 428.86L307.76 428.11L307.83 428.55L308.06 428.95L308.62 428.59L308.52 429.18L309.13 429.45L309.29 429.06L309.38 429.43L310.06 429.23L309.84 429.73L310.64 429.75L310.58 429.90L311.18 430.29L311.70 430.21L311.81 430.54L311.85 430.50L312.28 430.21L312.50 430.68L312.62 430.86L312.94 430.56L313.49 431.33L313.90 431.18L313.70 431.39L314.37 431.26L314.79 431.62L315.01 431.82L315.07 431.84L315.80 432.09L315.63 431.80L316.32 432.69L316.81 432.34L316.38 432.33L317.14 432.73L317.45 432.94L317.73 433.41L317.83 433.30L318.22 433.73L318.31 433.68L318.91 434.47L319.29 434.38L319.35 434.87L319.60 434.49L319.99 435.03L320.38 434.93L320.69 435.45L320.96 435.69L321.30 435.48L321.34 435.79L321.52 436.02L322.30 436.18L322.74 436.56L322.52 436.76L322.96 436.91L323.44 437.44L323.86 437.76L324.10 437.66L324.51 438.05L324.57 438.40L324.96 438.61L325.26 438.78L325.41 439.30L326.00 439.57L326.19 439.79L326.56 439.89L326.61 440.55L327.16 440.76L327.10 440.64L327.65 440.96L327.55 441.46L328.01 441.38L328.61 441.87L328.71 442.08L329.11 442.24L329.11 442.61L329.94 442.67L330.08 443.14L330.28 443.20L330.65 444.17L330.94 444.39L331.41 444.66L331.52 444.82L331.55 445.25L332.04 445.61L332.59 445.89L332.77 446.20L332.92 446.24L333.38 446.78L333.60 446.97L333.98 447.21L333.94 447.55L334.35 448.15L334.89 448.59L335.05 448.57L335.44 449.40L335.98 449.72L335.94 449.79L336.32 450.14L336.50 450.57L336.79 451.10L337.17 451.26L337.27 451.53L337.50 452.12L338.28 452.15L338.37 452.85L338.85 453.38L339.00 453.64L339.31 454.10L339.68 454.45L339.99 454.88L340.01 455.19L340.66 455.45L340.65 455.95L341.11 456.39L341.68 457.00L341.70 457.49L342.21 457.76L342.24 458.04L342.67 458.50L342.89 459.03L343.24 459.70L343.38 460.03L343.67 460.45L344.13 460.83L344.19 461.53L344.58 461.93L345.07 462.37L345.21 462.88L345.47 463.57L345.75 463.82L346.21 464.55L346.44 464.99L346.81 465.33L347.06 465.93L347.62 466.29L347.63 466.69L347.74 467.26L348.30 467.68L348.59 468.36L348.91 468.80L348.99 469.38L349.63 469.93L349.78 470.09L350.08 470.90L350.20 471.16L350.75 471.93L350.98 472.33L351.45 472.99L351.54 473.67L351.74 473.83L352.20 474.61L352.38 475.11L352.84 475.44L352.96 476.29L353.37 476.76L353.66 477.25L353.98 477.77L354.23 478.65L354.49 478.91L354.88 479.30L355.12 479.95L355.51 480.58L355.76 481.13L355.86 481.72L356.38 482.16L356.85 482.91L357.02 483.34L357.36 483.79L357.64 484.42L357.83 485.02L358.03 485.73L358.58 486.24L358.91 486.69L359.15 487.29L359.44 487.86L359.73 488.63L359.98 488.86L360.32 489.54L360.59 490.12L360.93 490.46L361.08 491.14L361.41 491.68L361.86 492.14L362.05 492.80L362.15 493.39L362.70 493.94L362.75 494.30L363.52 494.87L363.67 495.62L363.97 495.75L364.11 496.43L364.35 497.03L364.76 497.45L365.09 498.02L365.29 498.46L365.71 499.03L366.07 499.60L366.36 499.91L366.46 500.47L366.65 500.95L367.19 501.41L367.41 501.97L367.84 502.34L368.29 503.09L368.59 503.72L368.72 504.23L369.12 504.69L369.49 504.91L369.59 505.73L369.92 505.95L370.29 506.54L370.48 507.28L370.73 507.39L371.00 508.13L371.39 508.54L371.61 508.97L372.09 509.35L372.25 509.99L372.78 510.33L373.05 510.99L373.03 511.47L373.63 511.55L373.73 512.11L374.27 512.56L374.46 512.85L374.68 513.27L375.08 513.84L375.21 514.18L375.64 514.34L375.94 514.88L376.17 515.40L376.55 515.49L376.64 515.89L377.17 516.64L377.21 516.95L377.78 516.85L378.06 517.24L378.40 517.86L378.50 517.95L379.22 518.43L379.15 518.71L379.51 519.19L379.66 519.04L380.33 519.31L380.31 519.71L380.87 520.37L380.81 520.37L381.35 520.26L381.51 520.90L382.08 521.11L382.12 521.04L382.30 521.16L382.88 521.47L382.83 521.78L383.18 521.67L383.86 521.89L383.57 521.87L384.46 521.90L384.29 521.81L384.37 522.16L384.84 522.09L385.04 522.13L385.04 522.52L385.44 522.48L385.79 522.61L385.98 521.97L385.97 522.60L385.88 522.28L386.12 522.24L386.51 522.23L386.99 522.88L387.15 522.73L387.27 522.26L387.63 522.14L387.52 522.35L387.81 522.11L387.91 522.52L388.57 521.74L388.01 521.55L388.55 521.80L388.87 521.62L389.10 521.39L389.56 521.42L389.59 521.45L389.72 520.85L389.55 520.72L390.07 520.22L390.24 520.24L390.40 520.22L390.62 519.78L390.74 519.64L390.97 519.32L391.36 518.87L391.60 518.05L391.62 517.67L391.62 517.20L392.09 516.58L392.19 516.29L392.38 515.65L392.66 514.86L392.85 514.68L392.93 513.90L393.26 513.24L393.22 512.83L393.54 511.89L393.90 510.69L393.90 510.22L394.20 509.51L394.43 508.69L394.41 508.12L394.86 507.13L395.06 505.96L395.24 505.57L395.42 504.89L395.56 504.45L395.66 504.13L395.86 503.23L396.24 502.06L396.33 501.82L396.75 501.43L396.90 500.73L396.75 500.58L397.31 499.93L397.53 500.19L397.54 499.97L397.88 499.70L398.16 499.53L397.97 499.34L398.33 499.30L398.73 499.66L398.62 499.46L399.03 499.98L399.19 499.88L399.20 499.93L399.48 500.60L399.94 500.79L400.10 501.04L400.23 501.30L400.31 501.56L400.57 502.06L400.82 502.62L401.15 503.65L401.30 503.68L401.32 504.22L401.59 504.98L401.65 505.28L401.93 506.10L402.45 506.96L402.47 507.48L402.48 508.04L402.83 508.88L402.86 509.25L403.28 510.45L403.51 511.69L403.59 511.95L403.81 512.74L404.03 513.40L404.10 513.48L404.38 514.28L404.69 515.00L404.85 515.19L404.88 515.71L405.20 515.85L405.29 516.35L405.55 516.93L405.99 517.35L405.85 517.37L406.16 517.87L406.29 518.11L406.57 518.42L406.74 518.75L407.11 519.26L407.26 519.19L407.15 519.72L407.67 519.33L407.57 519.58L407.95 520.09L408.28 519.91L408.55 520.42L408.74 520.16L409.13 520.56L408.93 520.42L409.11 520.70L409.40 521.01L409.73 521.01L410.12 521.07L410.07 521.69L409.98 521.32L410.46 521.26L410.75 521.83L410.81 521.85L410.84 522.04L410.73 522.26L411.18 521.65L411.84 522.24L411.95 522.37L411.49 522.10L412.20 522.22L411.93 521.65L413.01 522.06L412.85 522.78L412.76 521.75L413.43 522.13L413.17 522.39L413.76 522.47L413.71 522.78L413.69 521.76L414.47 522.22L414.07 522.41L414.92 521.80L414.81 522.07L414.66 522.52L414.79 522.27L415.86 521.96L415.92 521.33L415.53 521.68L416.45 521.66L416.43 521.36L416.65 521.26L416.98 521.55L417.25 520.91L417.89 520.59L417.93 520.68L417.83 520.40L418.92 520.23L418.97 520.11L418.89 520.10L419.33 519.79L419.54 519.30L420.01 519.28L420.37 519.15L420.64 518.73L420.80 518.75L421.07 518.41L421.64 517.83L421.78 517.77L422.44 517.76L422.27 517.39L422.82 516.81L423.01 516.66L423.18 516.09L423.81 515.66L423.92 515.66L424.07 515.28L424.45 514.97L424.94 514.52L424.93 514.20L425.59 513.70L425.79 513.45L425.96 513.10L426.48 512.57L426.83 512.28L426.98 511.50L427.22 511.22L427.74 511.12L428.00 510.74L427.98 510.10L428.37 509.63L428.67 509.04L428.95 508.85L429.10 508.49L429.72 507.75L429.91 507.61L430.21 507.17L430.68 506.73L430.73 506.08L431.09 505.88L431.44 505.16L431.64 505.12L431.99 504.49L432.40 503.86L432.60 503.75L433.07 503.27L433.11 502.57L433.53 502.46L433.62 501.60L434.09 501.30L434.31 500.95L434.87 500.05L435.09 499.97L435.36 499.35L435.82 498.87L436.07 498.24L436.29 497.92L436.42 497.24L436.63 496.75L437.10 496.31L437.36 495.70L437.62 495.54L437.97 494.65L438.11 494.21L438.77 493.74L438.77 493.26L439.12 492.83L439.57 492.31L439.61 491.64L440.21 491.10L440.51 490.63L440.66 490.20L440.87 489.66L441.24 488.99L441.38 488.27L442.06 488.24L442.21 487.57L442.41 486.95L442.70 486.42L443.17 485.77L443.57 485.17L443.55 484.71L443.93 484.18L444.10 483.59L444.68 482.94L444.92 482.54L445.44 482.11L445.49 481.43L445.75 480.96L446.02 480.17L446.50 479.86L446.51 479.33L447.09 478.67L447.33 478.08L447.54 477.82L447.79 477.15L448.32 476.80L448.72 476.16L448.75 475.77L449.16 475.14L449.61 474.47L449.63 474.13L449.97 473.59L450.15 473.20L450.58 472.55L450.89 472.04L451.15 471.70L451.41 471.23L451.61 470.68L451.94 470.22L452.28 469.65L452.78 469.21L452.94 468.74L453.19 468.20L453.68 467.68L453.97 467.23L454.10 467.02L454.42 466.29L454.88 465.80L455.15 465.33L455.29 464.92L455.73 464.51L456.00 463.88L456.45 463.32L456.49 463.19L457.02 462.49L457.26 462.32L457.36 461.88L457.94 461.60L458.22 461.26L458.22 460.66L458.97 460.12L458.84 459.63L459.17 459.28L459.55 459.02L460.01 458.33L460.28 458.26L460.49 457.88L461.00 457.61L461.16 457.10L461.61 456.80L462.01 456.32L462.03 456.01L461.99 455.45L462.53 455.40L462.74 455.29L463.21 454.73L463.52 454.43L463.61 453.89L463.92 453.96L464.36 453.28L464.67 453.22L464.67 452.79L465.46 452.31L465.61 452.34L465.90 451.87L466.25 451.60L466.33 451.36L466.79 451.00L467.27 450.65L467.58 450.53L467.78 450.10L467.95 449.92L468.16 449.52L468.83 449.11L468.99 449.00L469.13 448.78L469.13 448.62L469.64 448.59L469.75 447.81L470.62 447.91L470.73 447.27L470.86 447.21L471.25 447.08L471.98 446.56L472.12 446.36L471.95 446.51L472.48 446.27L472.57 446.00L472.78 445.65L473.43 445.96L474.09 445.32L474.29 444.97L474.31 445.24L474.53 444.82L474.94 444.42L475.40 444.51L475.22 444.10L475.44 443.99L476.46 443.70L476.45 443.24L477.01 443.44L477.05 443.07L477.59 442.64L477.48 442.49L478.00 442.64L478.51 442.17L478.70 442.06L478.71 441.99L479.28 441.69L479.27 441.17L479.41 441.42L480.11 441.29L480.58 441.09L480.77 441.06L480.64 440.62L481.38 440.52L481.64 440.50L481.71 439.93L481.68 440.17L482.61 439.99L482.88 439.62L483.10 439.67L482.94 439.29L483.29 438.75L484.11 439.01L484.37 438.67L484.61 438.52L484.75 438.30L485.18 438.40L485.28 438.07L485.63 437.64L485.81 437.75L486.36 437.65L486.51 437.17L487.11 437.08L487.36 436.94L487.32 436.74L488.20 436.81L487.85 436.81L488.50 436.86L488.94 436.56L489.29 436.39L488.84 436.28L489.83 436.19L490.18 435.67L490.53 435.79L490.03 435.58L490.64 435.36L491.08 435.16L491.29 435.04L492.02 434.99L491.84 434.65L492.60 434.97L492.74 434.74L492.54 434.66L492.96 434.62L493.38 434.61L493.82 434.19L494.35 434.21L494.35 433.74L494.93 433.55L494.61 433.47L494.80 434.25L495.51 433.32L496.02 433.81L496.11 433.98L496.24 433.40L496.91 433.86L497.60 433.84L497.37 433.53L497.51 433.73L497.78 433.30L498.82 432.87L498.59 433.13L499.06 432.81L499.53 432.51L499.79 432.45L499.55 433.28L500.36 432.53L500.63 432.62L500.83 432.39L501.28 432.56L501.14 432.40L501.58 432.30L501.75 432.03L502.41 431.93L502.32 432.07L502.91 432.31L502.79 432.75L503.37 432.44L503.60 432.62L503.97 432.20L504.34 431.99L504.55 431.60L504.84 431.94L504.62 431.32L505.82 431.78L505.62 432.31L506.03 431.90L506.16 432.10L506.99 431.62L506.74 431.30L507.45 431.53L507.95 431.53L508.38 431.97L508.55 432.16L508.68 431.34L508.45 431.42L509.48 431.45L509.75 431.36L509.95 431.07L510.24 431.44L510.32 431.49L510.45 431.47L511.22 430.97L511.58 431.27L511.19 430.76L512.07 431.52L512.18 430.92L512.67 431.12L512.78 431.05L513.34 430.99L513.61 430.82L513.87 430.59L513.49 431.63L514.45 431.17L514.52 431.15L514.46 431.66L515.32 431.01L514.98 431.20L515.98 431.03L516.53 431.38L516.15 431.16L516.89 431.09L517.05 430.90L517.41 431.06L517.09 431.33L517.99 430.32L518.15 430.91L518.64 430.81L518.71 430.84L519.35 430.31L519.39 431.14L519.82 430.64L520.33 430.83L520.26 430.73L520.82 430.36L520.88 430.74L521.27 430.29L521.24 430.56L521.95 430.75L522.39 430.84L522.28 430.86L522.85 430.79L523.04 431.44L522.87 430.95L523.62 430.43L524.22 430.61L523.96 430.59L523.86 430.73L524.77 430.59L524.81 430.51L525.90 431.29L525.60 430.78L525.91 430.65L526.02 430.67L526.59 430.68L526.64 431.18L526.83 430.89L527.39 431.08L527.46 430.08L528.42 430.82L527.95 431.05L528.59 431.33L528.70 430.71L528.78 430.16L530.03 430.88L529.17 430.50L530.56 430.12L529.97 430.49L530.74 431.01L531.63 431.05L530.67 430.90L531.18 430.33L532.32 431.28L532.26 430.29L532.34 430.63L532.80 430.19L532.81 431.07L533.45 430.79L534.18 430.92L533.89 430.67L534.35 430.62L534.99 430.69L535.53 430.03L535.03 430.95L535.60 430.92L535.64 430.50L535.91 430.62L536.29 430.72L536.51 431.12L536.47 430.76L536.69 430.63L537.38 430.46L537.95 430.14L538.59 430.43L538.35 430.64L538.76 430.53L539.32 430.64L539.64 430.85L539.68 430.75L539.99 430.70L540.90 430.82L540.51 430.67L540.76 430.61L540.70 430.77L541.65 430.07L541.73 431.02L542.71 430.21L542.31 430.89L542.96 430.63L543.30 430.98L543.82 430.64L543.20 430.34L544.40 430.98L544.22 430.70L544.48 430.68L544.72 430.68L544.99 430.97L545.30 430.92L545.07 430.74L546.17 430.18L546.33 430.55L546.32 430.71L546.89 431.25L547.83 430.81L547.63 430.67L547.69 431.08L548.64 430.67L548.17 430.71L548.66 430.77L548.84 430.26L549.24 431.04L549.84 430.88L550.09 430.66L549.99 430.40L550.47 430.83L550.84 431.21L550.99 430.58L551.40 430.45L551.49 430.92L551.79 430.30L552.32 430.16L552.30 430.68L553.04 430.61L553.15 430.74L553.23 430.67L553.62 430.95L553.97 430.79L554.36 430.69L554.74 430.74L554.95 431.09L555.05 431.21L556.04 431.20L556.18 431.15L556.24 430.32L556.79 430.66L556.91 430.89L557.03 431.07L557.43 430.53L558.31 431.47L558.30 431.15L558.62 430.89L558.49 431.14L559.09 431.01L559.80 430.91L559.63 431.31L560.12 431.04L560.48 430.78L560.60 431.03L561.17 431.21L561.08 430.94L561.45 431.67L561.43 430.99L562.50 431.86L562.30 431.63L562.54 431.10L563.21 431.45L562.97 431.79L563.41 431.40L563.48 431.13L564.01 431.54L564.20 432.11L564.76 431.12L564.87 431.75L565.04 431.61L565.42 431.60L565.77 431.55L565.96 431.60L566.68 432.02L566.90 431.92L567.05 431.48L566.97 432.26L567.75 431.45L567.55 432.06L568.26 431.95L568.52 432.28L568.64 432.07L568.87 432.30L569.21 432.02L570.28 432.34L569.93 432.20L570.25 432.69L570.87 431.97L571.02 432.55L571.50 432.38L571.17 432.34L571.51 432.16L572.67 432.49L572.40 431.99L572.63 432.06L573.05 432.69L573.58 432.09L573.28 432.98L573.98 432.55L574.20 432.74L574.69 432.74L574.85 432.88L574.96 432.73L575.17 432.76L575.14 432.87L576.27 433.25L575.92 433.33L576.50 433.42L577.35 433.22L577.10 433.12L577.67 432.77L577.75 433.46L578.29 433.57L578.41 433.29L578.58 433.68L579.35 433.87L579.24 433.62L579.27 433.94L579.82 433.82L580.34 433.36L580.23 433.77L581.00 433.86L581.30 434.19L581.91 433.92L581.55 434.11L582.17 434.07L581.90 434.39L582.51 434.51L582.93 434.83L583.30 434.88L583.49 434.82L583.78 434.94L583.96 435.01L584.30 435.11L584.78 435.57L585.14 434.79L585.45 435.36L585.84 435.59L586.18 435.90L585.79 435.47L586.39 435.93L586.77 436.17L586.96 435.97L587.64 435.74L587.88 436.23L587.98 436.14L588.33 436.70L588.89 436.47L588.83 437.21L589.14 436.94L589.71 436.84L589.91 437.03L590.42 437.02L590.49 437.49L590.87 437.87L590.88 437.59L591.10 437.98L591.60 437.69L591.45 438.11L592.29 438.61L592.71 438.00L592.82 438.73L593.06 438.86L593.64 438.34L593.70 438.59L594.21 438.84L594.73 439.42L594.76 439.28L595.10 439.50L595.31 439.85L595.56 439.89L595.86 440.08L596.12 440.13L596.62 440.61L596.38 440.38L596.95 441.07L597.44 440.82L597.44 440.91L597.88 441.39L598.07 441.54L598.59 441.24L598.97 441.88L599.38 441.76L599.50 442.06L599.57 442.59L600.05 442.47L600.41 442.92L600.87 442.98L600.51 443.64L601.27 443.47L601.17 443.47L601.94 443.71L602.19 443.97L602.50 444.39L602.87 444.59L603.08 445.00L603.19 445.07L603.67 445.29L604.12 445.56L604.18 445.70L604.51 446.02L604.59 446.35L605.31 446.59L605.32 446.58L605.57 446.61L605.93 447.03L606.15 447.48L606.56 447.31L607.13 447.85L607.34 448.27L607.75 448.35L608.06 448.51L607.95 449.29L608.49 449.49L608.96 449.46L609.35 450.01L609.07 450.28L609.37 450.12L609.98 450.93L610.15 450.71L610.34 451.11L610.87 451.24L610.97 451.73L611.06 451.78L611.70 452.30L612.02 452.78L612.41 452.92L612.76 453.14L612.93 453.74L613.17 453.64L613.40 454.25L613.54 454.35L614.03 454.74L614.56 455.02L614.81 455.35L615.33 455.64L615.28 455.83L615.33 456.19L616.03 456.67L616.36 456.91L616.32 457.06L616.56 457.47L617.13 457.80L617.51 458.24L617.53 458.62L617.95 458.94L618.19 459.17L618.43 459.62L618.71 459.76L619.22 460.00L619.45 460.66L619.70 460.77L619.79 461.23L620.66 461.55L620.56 462.19L620.98 462.26L621.13 462.84L621.66 463.08L621.68 463.32L622.22 463.62L622.47 464.29L622.94 464.64L622.94 465.06L623.31 465.58L623.67 465.70L624.31 466.07L624.09 466.37L624.64 466.77L624.81 467.07L625.25 467.35L625.60 468.16L625.82 467.94L626.14 468.63L626.44 469.02L626.62 469.34L626.97 469.53L627.06 470.01L627.55 470.33L627.79 470.59L628.16 471.11L628.61 471.40L628.86 471.73L629.17 472.27L629.57 472.35L629.39 472.93L630.07 473.12L630.30 473.63L630.59 473.92L630.71 474.30L631.28 474.45L631.67 474.83L631.96 475.16L632.09 475.66L632.50 476.09L632.84 476.48L633.28 476.56L633.49 476.99L633.62 477.04L633.92 477.31L634.23 477.81L634.54 478.16L634.72 478.33L635.22 478.60L635.29 479.30L635.57 479.38L636.06 479.53L636.21 480.45L636.56 480.44L636.56 480.65L637.33 481.12L637.50 481.16L637.78 481.85L638.18 481.60L638.44 481.92L638.58 482.40L639.34 482.56L639.22 483.22L639.77 482.96L640.21 483.38L640.10 483.82L640.52 484.14L640.66 484.50L641.27 484.67L641.35 485.24L641.52 485.10L642.22 485.50L642.45 485.91L642.46 485.99L643.09 486.29L643.23 486.54L643.85 486.79L644.09 486.98L644.01 487.35L644.35 487.44L644.55 488.04L645.02 487.93L645.31 488.84L645.73 489.01L645.92 489.12L645.92 489.07L646.34 489.18L647.09 489.74L647.34 489.68L647.37 489.91L647.67 489.75L647.96 490.28L648.31 489.94L648.21 490.26L649.11 489.92L649.05 490.28L649.53 490.66L649.31 490.53L650.16 490.63L650.72 491.03L650.20 490.90L651.37 491.33L651.42 490.60L651.42 491.33L651.51 491.39L652.49 490.93L652.57 491.06L652.95 491.71L653.03 491.25L653.19 491.42L653.93 491.82L653.74 491.61L654.55 491.88L654.14 491.53L654.64 491.90L654.59 492.14L655.57 491.94L654.89 491.27L655.17 492.06L656.00 491.89L656.17 491.60L656.84 492.32L656.95 491.34L656.78 492.43L656.89 491.68L656.51 492.26L657.08 491.75L657.32 491.40L657.56 491.71L657.47 491.71L657.68 491.73L658.01 491.74L658.73 491.16L658.69 491.43L658.73 491.39L658.94 491.07L659.16 490.87L659.26 490.72L659.65 490.92L659.45 490.87L660.13 490.41L660.39 490.19L660.37 490.67L660.69 489.92L660.96 490.03L661.35 489.77L661.23 489.44L661.19 489.55L661.34 489.39L661.90 489.28L662.25 488.97L662.30 488.51L662.51 488.39L662.62 488.10L662.51 487.73L662.91 487.22L663.08 487.05L663.35 486.63L663.44 486.33L663.81 485.96L663.88 485.80L664.00 485.14L664.57 484.57L664.67 484.37L664.67 483.69L665.01 483.06L665.16 482.91L665.37 481.93L665.78 481.17L665.82 481.07L666.10 480.62L666.22 479.95L666.28 479.57L666.65 479.08L666.98 478.12L667.02 478.01L667.16 477.75L667.32 477.18L667.46 476.72L667.74 475.98L668.12 475.64L668.22 475.35L668.39 474.96L668.60 474.87L668.73 474.60L669.47 473.98L669.51 474.87L669.31 474.72L669.65 474.95L669.76 475.27L669.89 475.65L670.17 476.17L670.44 477.01L670.46 477.14L670.58 477.73L671.02 477.98L671.23 478.14L671.29 478.49L671.76 479.12L671.75 479.52L672.03 480.04L672.10 479.98L672.27 480.19L672.58 480.88L672.65 481.42L673.02 481.44L673.18 481.86L673.13 481.95L673.58 482.28L673.79 482.88L674.13 483.40L674.25 483.25L674.33 483.46L674.43 483.80L674.63 484.02L674.93 484.25L675.63 484.37L675.69 484.65L675.52 484.96L675.73 484.88L675.95 484.86L676.29 485.46L676.37 485.70L676.42 485.89L677.15 485.89L677.19 485.90L676.80 486.01L677.04 486.07L677.52 486.24L677.84 486.37L678.12 486.48L678.12 486.93L677.93 486.42L678.64 486.82L679.03 486.81L678.99 487.34L679.08 487.12L679.53 487.04L679.48 487.36L679.52 487.28L680.12 487.24L679.88 487.78L680.63 487.63L680.71 487.95L680.44 487.83L681.05 487.81L681.63 487.70L680.85 487.38L681.55 487.91L682.25 487.76L681.45 487.94L682.14 487.77L682.05 487.57L682.57 487.47L682.17 488.00L682.51 488.17L682.93 487.68L683.43 487.88L683.80 488.11L683.91 487.47L684.31 487.58L684.38 487.33L684.49 487.95L684.33 487.64L684.85 487.38L685.53 487.04L685.72 487.38L685.60 487.63L685.68 487.28L686.04 487.16L685.99 487.34L686.67 486.84L686.30 487.10L686.57 487.17L687.19 486.80L686.51 486.69L687.38 486.85L686.98 486.73L687.44 486.63L687.77 486.66L687.81 486.63L688.23 486.25L688.31 486.21L688.57 486.44L688.51 486.53L688.90 486.52L688.76 485.95L689.55 486.30L689.40 486.10L689.95 485.88L689.90 485.91L690.23 485.85L690.85 485.91L690.92 485.14L690.79 485.34L691.60 485.02L691.38 484.84L692.15 484.95L692.31 484.70L692.41 484.14L693.01 484.10L693.23 484.02L693.99 483.50L693.81 483.75L694.58 483.37L694.77 483.21L694.67 483.04L694.93 483.13L695.65 482.58L695.67 482.29L696.03 482.49L696.25 481.85L696.36 481.63L696.82 481.24L697.01 481.48L697.21 481.10L697.74 480.90L698.42 480.61L698.69 480.31L698.68 479.95L699.02 479.70L699.39 479.66L699.84 479.35L699.95 479.36L700.11 478.67L700.43 478.45L700.99 478.09L701.45 478.23L701.29 477.51L701.35 477.58L702.13 477.41L702.28 476.86L702.62 476.72L703.11 475.97L703.21 475.96L703.27 475.45L703.46 475.47L704.09 475.15L704.20 474.73L704.74 474.72L704.78 474.33L705.24 473.89L705.35 473.59L705.83 473.13L706.12 473.05L706.60 473.13L707.02 472.37L707.06 472.26L707.25 471.80L708.02 471.73L708.06 471.37L708.40 470.96L708.70 470.40L709.14 470.30L709.36 470.26L709.61 469.71L709.92 469.54L709.96 469.04L710.30 468.49L710.68 468.53L711.01 468.19L711.30 467.71L711.65 467.41L711.90 467.18L712.13 466.71L712.24 466.52L712.93 466.09L713.19 465.47L713.26 465.42L713.77 465.01L714.06 464.63L714.31 464.48L714.31 464.00L714.71 463.82L715.10 463.56L715.75 463.07L715.66 462.47L716.04 462.25L716.22 462.17L716.62 461.65L717.05 461.23L716.98 461.00L717.28 460.76L718.00 460.39L718.20 460.12L718.40 459.56L718.95 459.32L719.25 459.00L719.07 458.72L719.67 458.08L720.18 458.05L720.19 457.55L720.54 457.68L721.05 457.39L721.15 457.09L721.30 456.63L721.68 456.11L721.88 456.02L722.49 455.52L722.41 455.33L723.16 454.77L723.03 454.51L723.60 454.36L723.65 454.26L724.14 453.66L724.66 453.68L724.98 453.37L725.31 452.51L725.38 452.41L725.71 451.95L726.03 451.77L726.40 451.40L726.53 451.17L727.08 451.04L727.25 450.73L727.69 450.32L727.88 449.98L728.21 449.70L728.27 449.41L728.62 449.19L728.77 448.80L729.24 448.60L729.57 448.01L730.04 448.08L729.98 447.96L730.85 447.42L730.77 446.86L731.32 447.07L731.58 446.51L731.34 445.94L731.95 445.99L732.56 445.87L732.24 445.57L733.03 445.46L733.03 445.09L733.41 444.74L733.84 444.11L733.76 444.00L734.43 443.98L734.58 443.81L734.86 443.25L735.42 443.07L735.97 443.01L735.96 442.33L736.30 442.08L736.49 442.14L736.66 441.98L737.14 441.60L737.68 441.08L737.73 441.21L738.16 440.72L738.25 440.85L738.98 440.48L738.58 440.31L739.31 440.15L739.60 439.70L739.85 439.73L739.88 439.58L740.18 439.20L740.65 439.15L741.01 438.56L741.06 438.64L741.39 438.30L742.00 437.84L742.40 437.80L742.38 437.51L742.66 437.29L742.95 437.22L743.80 437.21L743.79 436.73L743.98 436.62L744.50 436.11L745.00 436.23L745.13 436.25L744.90 435.99L745.48 435.73L745.71 435.34L746.02 435.06L746.14 435.05L746.61 434.61L746.77 434.44L747.36 434.71L747.60 434.14L747.60 434.52L747.84 433.68L748.39 433.89L748.93 433.38L749.20 433.48L749.38 433.06L749.28 433.11L749.89 432.90L750.13 432.67L750.52 432.70L750.63 432.75L751.10 432.14L751.35 432.29L752.23 431.96L752.24 431.78L752.35 432.06L752.68 431.04L752.97 431.17L753.33 430.77L753.50 430.94L753.89 430.81L754.42 431.16L754.68 430.64L754.86 430.82L755.39 430.57L755.44 430.04L755.47 430.10L755.59 430.23L756.13 429.76L756.58 429.63L756.98 429.56L757.44 428.97L757.36 428.99L757.61 429.12L758.27 429.04L758.66 428.57L758.58 428.58L759.07 428.49L759.61 428.36L759.67 428.42L759.88 428.16L759.73 428.05L760.80 427.56L760.94 427.52L761.12 427.72L761.28 427.15L761.40 427.47L761.97 427.13L762.27 426.98L762.85 427.20L762.60 426.78L763.54 426.62L763.50 426.55L764.08 426.61L763.86 426.98L764.47 425.90L764.99 426.27L765.02 426.11L764.93 426.30L765.51 425.88L766.02 425.38L765.84 426.09L766.13 425.40L766.85 425.56L766.85 425.14L767.56 425.11L767.39 425.17L767.53 425.42L768.09 425.33L768.97 424.88L768.67 425.06L769.19 424.76L769.55 424.79L769.55 424.72L770.37 424.75L770.44 424.35L770.80 424.39L770.56 424.39L770.84 424.28L771.09 423.97L771.84 424.53L772.13 423.89L772.68 424.13L773.18 423.91L773.02 424.09L773.32 423.19L773.81 424.15L774.39 423.49L774.07 423.16L774.76 423.44L774.82 423.87L775.10 423.40L775.71 422.87L775.58 423.01L775.80 423.42L776.57 422.62L776.68 422.88L776.92 422.79L777.25 423.36L777.73 422.67L777.79 423.05L778.40 422.45L778.60 422.36L779.20 422.80L779.44 422.65L779.63 421.95L779.63 422.55L780.02 422.51L780.12 422.11L781.16 422.29L780.83 422.26L781.35 422.00L781.87 421.93L781.41 421.86L781.86 421.92L782.28 421.58L782.41 421.90L782.63 421.44L783.14 421.84L783.96 421.75L784.10 421.44L784.20 421.93L784.50 422.20L784.32 421.99L785.29 421.18L785.51 421.89L785.38 421.55L786.05 421.44L786.24 421.25L786.44 421.38L786.60 421.75L786.99 421.47L787.22 421.16L787.93 421.05L788.20 421.09L788.49 421.35L788.64 421.70L788.87 420.81L789.89 421.09L789.04 420.95L790.25 420.82L790.30 421.13L790.51 421.16L790.64 420.55L791.03 420.64L791.03 421.28L791.27 421.00" stroke="#ff0000" stroke-width="3.5"/>
<path d="M190.6 405.3L190.9 405.4L191.3 405.4L191.7 405.5M195.9 406.0L196.2 406.0L196.6 406.0L197.0 406.1M201.2 406.6L201.5 406.6L201.9 406.7L202.3 406.7M206.5 407.2L206.8 407.2L207.2 407.3L207.6 407.3M211.8 407.8L212.1 407.9L212.5 407.9L212.9 408.0M217.1 408.4L217.4 408.5L217.8 408.5L218.2 408.6M222.4 409.1L222.7 409.1L223.1 409.2L223.5 409.2M227.7 409.7L228.0 409.8L228.4 409.8L228.8 409.9M233.0 410.4L233.3 410.4L233.7 410.4L234.1 410.5M238.3 411.0L238.6 411.0L239.0 411.0L239.4 411.1M243.6 411.5L243.9 411.6L244.3 411.6L244.7 411.6M248.9 412.1L249.2 412.1L249.6 412.1L250.0 412.2M254.2 412.6L254.5 412.6L254.9 412.6L255.3 412.7M259.5 413.1L259.8 413.2L260.2 413.2L260.6 413.2M264.8 413.7L265.1 413.7L265.5 413.8L265.9 413.8M270.1 414.2L270.4 414.3L270.8 414.3L271.2 414.4M275.4 414.8L275.7 414.8L276.1 414.9L276.5 414.9M280.7 415.4L281.0 415.5L281.4 415.5L281.8 415.5M286.0 416.1L286.3 416.2L286.7 416.3L287.1 416.3M291.2 417.1L291.6 417.1L292.0 417.2L292.4 417.3M296.5 418.4L296.9 418.5L297.3 418.7L297.7 418.8M301.8 420.1L302.2 420.3L302.6 420.4L303.0 420.6M307.1 422.2L307.5 422.4L307.9 422.6L308.4 422.8M312.4 424.8L312.8 425.1L313.2 425.3L313.7 425.6M317.6 428.1L318.1 428.5L318.6 428.9L319.0 429.2M322.9 432.5L323.4 432.9L323.9 433.4L324.4 433.9M328.1 437.6L328.7 438.1L329.2 438.7L329.7 439.3M333.4 443.6L333.9 444.3L334.5 445.1L335.1 445.8M338.6 450.7L339.2 451.6L339.8 452.4L340.4 453.3M343.9 458.9L344.5 460.1L345.1 461.2L345.8 462.3M349.2 468.3L349.8 469.4L350.4 470.6L351.1 471.7M354.4 477.7L355.1 478.9L355.8 480.1L356.4 481.3M359.7 487.5L360.4 488.8L361.1 490.1L361.7 491.4M365.0 497.8L365.7 499.2L366.4 500.6L367.1 502.1M370.2 509.3L371.0 511.0L371.7 512.7L372.4 514.3M375.7 520.9L376.3 521.9L376.9 523.0L377.6 524.1M381.1 529.5L381.6 530.3L382.2 531.1L382.8 531.8M386.5 535.2L387.0 535.5L387.5 535.8L387.9 536.1M391.9 538.0L392.3 538.2L392.7 538.3L393.1 538.4M397.3 539.3L397.6 539.4L398.0 539.5L398.4 539.5M402.6 539.7L402.9 539.6L403.3 539.6L403.7 539.6M407.8 538.9L408.2 538.8L408.6 538.8L409.0 538.7M413.0 537.0L413.5 536.7L414.0 536.4L414.4 536.1M418.3 532.7L418.8 532.2L419.3 531.7L419.8 531.2M423.4 526.3L424.0 525.3L424.6 524.4L425.2 523.5M428.7 518.1L429.3 517.2L429.9 516.3L430.5 515.5M434.0 510.2L434.6 509.2L435.2 508.2L435.8 507.2M439.2 501.5L439.9 500.3L440.6 499.1L441.2 497.8M444.5 490.8L445.2 489.3L445.9 487.8L446.6 486.4M449.8 480.1L450.5 479.0L451.2 477.8L451.8 476.6M455.2 471.0L455.8 470.2L456.4 469.3L457.0 468.5M460.5 463.5L461.1 462.6L461.7 461.7L462.3 460.9M465.9 456.4L466.5 455.8L467.0 455.2L467.5 454.6M471.3 450.6L471.8 450.1L472.3 449.6L472.8 449.1M476.6 445.7L477.1 445.3L477.6 444.9L478.1 444.5M481.9 441.4L482.4 441.1L482.9 440.7L483.3 440.4M487.3 438.1L487.7 437.9L488.1 437.7L488.6 437.4M492.6 435.7L493.0 435.5L493.4 435.3L493.9 435.2M497.9 433.7L498.3 433.6L498.7 433.5L499.1 433.4M503.3 432.6L503.6 432.5L504.0 432.4L504.4 432.4M508.6 431.8L508.9 431.7L509.3 431.7L509.7 431.6M513.9 431.1L514.2 431.1L514.6 431.1L515.0 431.1M519.2 430.9L519.5 430.8L519.9 430.8L520.3 430.8M524.5 430.7L524.8 430.7L525.2 430.6L525.6 430.6M529.8 430.5L530.1 430.5L530.5 430.5L530.9 430.5M535.1 430.4L535.4 430.4L535.8 430.4L536.2 430.4M540.4 430.4L540.7 430.4L541.1 430.4L541.5 430.4M545.7 430.4L546.0 430.5L546.4 430.5L546.8 430.5M551.0 430.6L551.3 430.6L551.7 430.6L552.1 430.6M556.3 430.7L556.6 430.8L557.0 430.8L557.4 430.8M561.6 431.1L561.9 431.1L562.3 431.2L562.7 431.2M566.9 431.5L567.2 431.6L567.6 431.6L568.0 431.6M572.2 432.1L572.5 432.2L572.9 432.2L573.3 432.3M577.5 432.9L577.8 433.0L578.2 433.0L578.6 433.1M582.7 434.2L583.1 434.3L583.5 434.4L583.9 434.5M588.0 436.0L588.4 436.1L588.8 436.3L589.2 436.4M593.3 438.1L593.7 438.3L594.1 438.5L594.6 438.7M598.5 440.9L599.0 441.2L599.5 441.5L599.9 441.8M603.8 444.6L604.3 445.0L604.8 445.4L605.2 445.8M609.1 449.2L609.6 449.7L610.1 450.2L610.6 450.6M614.3 454.5L614.9 455.0L615.4 455.6L615.9 456.2M619.6 460.6L620.1 461.3L620.7 462.0L621.3 462.7M624.9 467.3L625.4 468.0L626.0 468.7L626.6 469.4M630.2 474.1L630.7 474.9L631.3 475.6L631.9 476.4M635.5 481.0L636.0 481.7L636.6 482.3L637.2 483.0M640.8 487.2L641.3 487.9L641.9 488.6L642.5 489.3M646.2 493.5L646.7 494.0L647.2 494.4L647.7 494.8M651.5 497.5L652.0 497.8L652.5 498.1L652.9 498.3M657.0 499.3L657.3 499.3L657.7 499.2L658.1 499.2M662.1 498.0L662.6 497.6L663.1 497.1L663.6 496.6M667.1 490.3L667.8 489.0L668.5 487.8L669.1 486.6M672.5 488.8L673.1 489.8L673.7 490.9L674.4 492.0M678.0 496.6L678.5 496.9L679.0 497.2L679.4 497.4M683.5 498.1L683.8 498.1L684.2 498.0L684.6 498.0M688.7 496.5L689.1 496.4L689.5 496.2L690.0 496.0M693.9 493.2L694.4 492.8L694.9 492.4L695.4 492.0M699.1 488.3L699.7 487.8L700.2 487.2L700.7 486.5M704.4 482.1L704.9 481.4L705.5 480.8L706.1 480.1M709.7 475.8L710.3 475.1L710.8 474.4L711.3 473.8M715.0 469.3L715.5 468.7L716.1 468.0L716.7 467.3M720.3 462.9L720.8 462.2L721.4 461.5L722.0 460.9M725.6 456.3L726.1 455.6L726.7 455.0L727.3 454.3M730.9 450.1L731.5 449.5L732.0 449.0L732.5 448.5M736.3 444.8L736.8 444.3L737.3 443.9L737.8 443.4M741.6 440.2L742.1 439.9L742.6 439.5L743.0 439.2M746.9 436.6L747.4 436.3L747.9 436.1L748.3 435.8M752.3 433.7L752.7 433.4L753.1 433.2L753.6 433.0M757.6 431.1L758.0 430.9L758.4 430.8L758.9 430.6M762.9 428.9L763.3 428.7L763.7 428.6L764.1 428.4M768.2 427.0L768.6 426.9L769.0 426.8L769.4 426.7M773.5 425.4L773.9 425.3L774.3 425.2L774.7 425.1M778.8 424.1L779.2 424.1L779.6 424.0L780.0 423.9M784.2 423.2L784.5 423.1L784.9 423.1L785.3 423.0M789.5 422.4L789.8 422.4L790.2 422.4L790.6 422.3" stroke="#000" stroke-width="3.8"/>
</g>
<!-- axes -->
<g fill="none" stroke="#000" stroke-width="2.4" stroke-linecap="butt">
<path d="M794 369.1H189.6V897.9H794" stroke-linejoin="miter"/>
<path d="M178.2 408.6H189.6M178.2 540.9H189.6M178.2 673.2H189.6M178.2 805.5H189.6M183.4 474.8H189.6M183.4 607.1H189.6M183.4 739.4H189.6M183.4 871.7H189.6M189.6 897.9V909.5M309.9 897.9V909.5M430.2 897.9V909.5M550.5 897.9V909.5M670.8 897.9V909.5M791.1 897.9V909.5M249.8 897.9V904.3M370.0 897.9V904.3M490.4 897.9V904.3M610.6 897.9V904.3M731.0 897.9V904.3" stroke-width="2.3"/>
</g>
<!-- tick labels -->
<g font-size="26.5" fill="#000">
<text transform="translate(172 417.0) scale(1 1.045)" text-anchor="end">0,00</text>
<text transform="translate(172 549.3) scale(1 1.045)" text-anchor="end">-0,05</text>
<text transform="translate(172 681.6) scale(1 1.045)" text-anchor="end">-0,10</text>
<text transform="translate(172 813.9) scale(1 1.045)" text-anchor="end">-0,15</text>
<text transform="translate(189.6 936.2) scale(1 1.045)" text-anchor="middle">-1500</text>
<text transform="translate(309.9 936.2) scale(1 1.045)" text-anchor="middle">-1000</text>
<text transform="translate(430.2 936.2) scale(1 1.045)" text-anchor="middle">-500</text>
<text transform="translate(550.5 936.2) scale(1 1.045)" text-anchor="middle">0</text>
<text transform="translate(670.8 936.2) scale(1 1.045)" text-anchor="middle">500</text>
<text transform="translate(791.1 936.2) scale(1 1.045)" text-anchor="middle">1000</text>
</g>
<!-- axis titles -->
<text x="401.4" y="985.3" font-size="31.1" fill="#000">Laser detuning (MHz)</text>
<text transform="translate(71.3 790.2) rotate(-90)" font-size="31.1" fill="#000">Data - background (V)</text>
<!-- legend -->
<g fill="none" stroke-width="3">
<path d="M195 811.8H256" stroke="#0000ff"/>
<path d="M195 844.1H256" stroke="#ff0000"/>
<path d="M195 876.4H256" stroke="#000" stroke-dasharray="12.8 11.3"/>
</g>
<g font-size="26.3">
<text x="261.7" y="819.9" fill="#0000ff">dual frequency - orthogonal</text>
<text x="262.2" y="852.1" fill="#ff0000">single frequency - parallel</text>
<text x="262.2" y="884.2" fill="#000">single frequency - orthogonal</text>
</g>
<!-- annotations -->
<g font-size="30.6" font-weight="bold">
<text transform="translate(351.2 416.5) scale(1 1.045)" fill="#000">4</text>
<text transform="translate(418.6 416.5) scale(1 1.045)" fill="#000">3'</text>
<text transform="translate(624.2 415.9) scale(1 1.045)" fill="#000">4</text>
<text transform="translate(691 415.9) scale(1 1.045)" fill="#000">4'</text>
<text transform="translate(417.4 667.8) scale(1 1.015)" fill="#0000ff">3'</text>
<text transform="translate(697.7 873.4) scale(1 1.015)" fill="#0000ff">4'</text>
</g>
<!-- horizontal black arrows -->
<g stroke="#000" stroke-width="2.1" fill="#000">
<path d="M373.2 405.9H397" fill="none" stroke-width="2.8"/>
<path d="M395.2 400.8L411.7 405.9L395.2 411Z" stroke="none"/>
<path d="M646.3 404.9H669" fill="none" stroke-width="2.8"/>
<path d="M667.6 399.8L684 404.9L667.6 410Z" stroke="none"/>
<!-- vertical black arrows -->
<path d="M397.15 440.2V467" fill="none"/>
<path d="M393.1 466.4H401.2L397.15 481.3Z" stroke="none"/>
<path d="M669.7 427V455" fill="none"/>
<path d="M665.65 454.2H673.75L669.7 468.6Z" stroke="none"/>
</g>
<!-- blue arrows -->
<g stroke="#0000ff" stroke-width="3" fill="#0000ff" stroke-linecap="round">
<path d="M359 657.9H392" fill="none"/>
<path d="M390 653.1L406.4 657.9L390 662.7Z" stroke="none"/>
<path d="M640.3 863.5H673" fill="none"/>
<path d="M671.2 858.7L687.7 863.5L671.2 868.3Z" stroke="none"/>
</g>
</svg>
</body>
</html>
